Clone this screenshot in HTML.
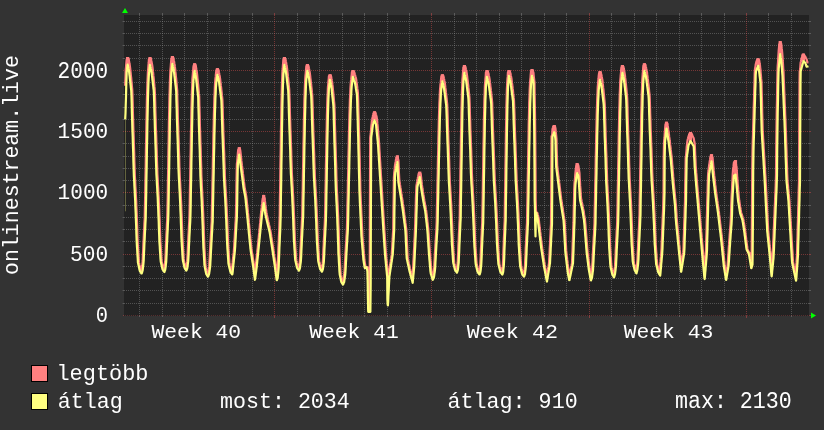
<!DOCTYPE html>
<html><head><meta charset="utf-8"><style>
html,body{margin:0;padding:0;width:824px;height:430px;overflow:hidden;background:#333333}
.mi{stroke:#8f8f8f;stroke-opacity:0.45;stroke-width:1;stroke-dasharray:1 1}
.mit{stroke:#8f8f8f;stroke-opacity:0.45;stroke-width:1}
.ma{stroke:#de4f4f;stroke-opacity:0.45;stroke-width:1;stroke-dasharray:1 1}
.mat{stroke:#de4f4f;stroke-opacity:0.45;stroke-width:1}
.mah{stroke:#de4f4f;stroke-opacity:0.45;stroke-width:1;stroke-dasharray:1 1;stroke-dashoffset:1}
.ma0{stroke:#de4f4f;stroke-opacity:0.28;stroke-width:1;stroke-dasharray:1 1;stroke-dashoffset:1}
text{font-family:"Liberation Mono"}
#tx{will-change:transform}
</style></head><body>
<svg width="824" height="430" viewBox="0 0 824 430" style="position:absolute;left:0;top:0">
<rect x="0" y="0" width="824" height="430" fill="#333333"/>
<rect x="124" y="15" width="685" height="301" fill="#222222"/>
<g><line x1="124" y1="303.5" x2="809" y2="303.5" class="mi"/><line x1="122.6" y1="303.5" x2="124" y2="303.5" class="mit"/><line x1="809" y1="303.5" x2="811" y2="303.5" class="mit"/><line x1="124" y1="290.5" x2="809" y2="290.5" class="mi"/><line x1="122.6" y1="290.5" x2="124" y2="290.5" class="mit"/><line x1="809" y1="290.5" x2="811" y2="290.5" class="mit"/><line x1="124" y1="278.5" x2="809" y2="278.5" class="mi"/><line x1="122.6" y1="278.5" x2="124" y2="278.5" class="mit"/><line x1="809" y1="278.5" x2="811" y2="278.5" class="mit"/><line x1="124" y1="266.5" x2="809" y2="266.5" class="mi"/><line x1="122.6" y1="266.5" x2="124" y2="266.5" class="mit"/><line x1="809" y1="266.5" x2="811" y2="266.5" class="mit"/><line x1="124" y1="241.5" x2="809" y2="241.5" class="mi"/><line x1="122.6" y1="241.5" x2="124" y2="241.5" class="mit"/><line x1="809" y1="241.5" x2="811" y2="241.5" class="mit"/><line x1="124" y1="229.5" x2="809" y2="229.5" class="mi"/><line x1="122.6" y1="229.5" x2="124" y2="229.5" class="mit"/><line x1="809" y1="229.5" x2="811" y2="229.5" class="mit"/><line x1="124" y1="217.5" x2="809" y2="217.5" class="mi"/><line x1="122.6" y1="217.5" x2="124" y2="217.5" class="mit"/><line x1="809" y1="217.5" x2="811" y2="217.5" class="mit"/><line x1="124" y1="205.5" x2="809" y2="205.5" class="mi"/><line x1="122.6" y1="205.5" x2="124" y2="205.5" class="mit"/><line x1="809" y1="205.5" x2="811" y2="205.5" class="mit"/><line x1="124" y1="180.5" x2="809" y2="180.5" class="mi"/><line x1="122.6" y1="180.5" x2="124" y2="180.5" class="mit"/><line x1="809" y1="180.5" x2="811" y2="180.5" class="mit"/><line x1="124" y1="168.5" x2="809" y2="168.5" class="mi"/><line x1="122.6" y1="168.5" x2="124" y2="168.5" class="mit"/><line x1="809" y1="168.5" x2="811" y2="168.5" class="mit"/><line x1="124" y1="156.5" x2="809" y2="156.5" class="mi"/><line x1="122.6" y1="156.5" x2="124" y2="156.5" class="mit"/><line x1="809" y1="156.5" x2="811" y2="156.5" class="mit"/><line x1="124" y1="143.5" x2="809" y2="143.5" class="mi"/><line x1="122.6" y1="143.5" x2="124" y2="143.5" class="mit"/><line x1="809" y1="143.5" x2="811" y2="143.5" class="mit"/><line x1="124" y1="119.5" x2="809" y2="119.5" class="mi"/><line x1="122.6" y1="119.5" x2="124" y2="119.5" class="mit"/><line x1="809" y1="119.5" x2="811" y2="119.5" class="mit"/><line x1="124" y1="107.5" x2="809" y2="107.5" class="mi"/><line x1="122.6" y1="107.5" x2="124" y2="107.5" class="mit"/><line x1="809" y1="107.5" x2="811" y2="107.5" class="mit"/><line x1="124" y1="94.5" x2="809" y2="94.5" class="mi"/><line x1="122.6" y1="94.5" x2="124" y2="94.5" class="mit"/><line x1="809" y1="94.5" x2="811" y2="94.5" class="mit"/><line x1="124" y1="82.5" x2="809" y2="82.5" class="mi"/><line x1="122.6" y1="82.5" x2="124" y2="82.5" class="mit"/><line x1="809" y1="82.5" x2="811" y2="82.5" class="mit"/><line x1="124" y1="58.5" x2="809" y2="58.5" class="mi"/><line x1="122.6" y1="58.5" x2="124" y2="58.5" class="mit"/><line x1="809" y1="58.5" x2="811" y2="58.5" class="mit"/><line x1="124" y1="45.5" x2="809" y2="45.5" class="mi"/><line x1="122.6" y1="45.5" x2="124" y2="45.5" class="mit"/><line x1="809" y1="45.5" x2="811" y2="45.5" class="mit"/><line x1="124" y1="33.5" x2="809" y2="33.5" class="mi"/><line x1="122.6" y1="33.5" x2="124" y2="33.5" class="mit"/><line x1="809" y1="33.5" x2="811" y2="33.5" class="mit"/><line x1="124" y1="21.5" x2="809" y2="21.5" class="mi"/><line x1="122.6" y1="21.5" x2="124" y2="21.5" class="mit"/><line x1="809" y1="21.5" x2="811" y2="21.5" class="mit"/><line x1="139.5" y1="15" x2="139.5" y2="316" class="mi"/><line x1="139.5" y1="316" x2="139.5" y2="317" class="mit"/><line x1="139.5" y1="13" x2="139.5" y2="15" class="mit"/><line x1="162.5" y1="15" x2="162.5" y2="316" class="mi"/><line x1="162.5" y1="316" x2="162.5" y2="317" class="mit"/><line x1="162.5" y1="13" x2="162.5" y2="15" class="mit"/><line x1="184.5" y1="15" x2="184.5" y2="316" class="mi"/><line x1="184.5" y1="316" x2="184.5" y2="317" class="mit"/><line x1="184.5" y1="13" x2="184.5" y2="15" class="mit"/><line x1="207.5" y1="15" x2="207.5" y2="316" class="mi"/><line x1="207.5" y1="316" x2="207.5" y2="317" class="mit"/><line x1="207.5" y1="13" x2="207.5" y2="15" class="mit"/><line x1="229.5" y1="15" x2="229.5" y2="316" class="mi"/><line x1="229.5" y1="316" x2="229.5" y2="317" class="mit"/><line x1="229.5" y1="13" x2="229.5" y2="15" class="mit"/><line x1="252.5" y1="15" x2="252.5" y2="316" class="mi"/><line x1="252.5" y1="316" x2="252.5" y2="317" class="mit"/><line x1="252.5" y1="13" x2="252.5" y2="15" class="mit"/><line x1="297.5" y1="15" x2="297.5" y2="316" class="mi"/><line x1="297.5" y1="316" x2="297.5" y2="317" class="mit"/><line x1="297.5" y1="13" x2="297.5" y2="15" class="mit"/><line x1="319.5" y1="15" x2="319.5" y2="316" class="mi"/><line x1="319.5" y1="316" x2="319.5" y2="317" class="mit"/><line x1="319.5" y1="13" x2="319.5" y2="15" class="mit"/><line x1="342.5" y1="15" x2="342.5" y2="316" class="mi"/><line x1="342.5" y1="316" x2="342.5" y2="317" class="mit"/><line x1="342.5" y1="13" x2="342.5" y2="15" class="mit"/><line x1="364.5" y1="15" x2="364.5" y2="316" class="mi"/><line x1="364.5" y1="316" x2="364.5" y2="317" class="mit"/><line x1="364.5" y1="13" x2="364.5" y2="15" class="mit"/><line x1="387.5" y1="15" x2="387.5" y2="316" class="mi"/><line x1="387.5" y1="316" x2="387.5" y2="317" class="mit"/><line x1="387.5" y1="13" x2="387.5" y2="15" class="mit"/><line x1="409.5" y1="15" x2="409.5" y2="316" class="mi"/><line x1="409.5" y1="316" x2="409.5" y2="317" class="mit"/><line x1="409.5" y1="13" x2="409.5" y2="15" class="mit"/><line x1="454.5" y1="15" x2="454.5" y2="316" class="mi"/><line x1="454.5" y1="316" x2="454.5" y2="317" class="mit"/><line x1="454.5" y1="13" x2="454.5" y2="15" class="mit"/><line x1="476.5" y1="15" x2="476.5" y2="316" class="mi"/><line x1="476.5" y1="316" x2="476.5" y2="317" class="mit"/><line x1="476.5" y1="13" x2="476.5" y2="15" class="mit"/><line x1="499.5" y1="15" x2="499.5" y2="316" class="mi"/><line x1="499.5" y1="316" x2="499.5" y2="317" class="mit"/><line x1="499.5" y1="13" x2="499.5" y2="15" class="mit"/><line x1="521.5" y1="15" x2="521.5" y2="316" class="mi"/><line x1="521.5" y1="316" x2="521.5" y2="317" class="mit"/><line x1="521.5" y1="13" x2="521.5" y2="15" class="mit"/><line x1="544.5" y1="15" x2="544.5" y2="316" class="mi"/><line x1="544.5" y1="316" x2="544.5" y2="317" class="mit"/><line x1="544.5" y1="13" x2="544.5" y2="15" class="mit"/><line x1="566.5" y1="15" x2="566.5" y2="316" class="mi"/><line x1="566.5" y1="316" x2="566.5" y2="317" class="mit"/><line x1="566.5" y1="13" x2="566.5" y2="15" class="mit"/><line x1="611.5" y1="15" x2="611.5" y2="316" class="mi"/><line x1="611.5" y1="316" x2="611.5" y2="317" class="mit"/><line x1="611.5" y1="13" x2="611.5" y2="15" class="mit"/><line x1="634.5" y1="15" x2="634.5" y2="316" class="mi"/><line x1="634.5" y1="316" x2="634.5" y2="317" class="mit"/><line x1="634.5" y1="13" x2="634.5" y2="15" class="mit"/><line x1="656.5" y1="15" x2="656.5" y2="316" class="mi"/><line x1="656.5" y1="316" x2="656.5" y2="317" class="mit"/><line x1="656.5" y1="13" x2="656.5" y2="15" class="mit"/><line x1="679.5" y1="15" x2="679.5" y2="316" class="mi"/><line x1="679.5" y1="316" x2="679.5" y2="317" class="mit"/><line x1="679.5" y1="13" x2="679.5" y2="15" class="mit"/><line x1="701.5" y1="15" x2="701.5" y2="316" class="mi"/><line x1="701.5" y1="316" x2="701.5" y2="317" class="mit"/><line x1="701.5" y1="13" x2="701.5" y2="15" class="mit"/><line x1="724.5" y1="15" x2="724.5" y2="316" class="mi"/><line x1="724.5" y1="316" x2="724.5" y2="317" class="mit"/><line x1="724.5" y1="13" x2="724.5" y2="15" class="mit"/><line x1="768.5" y1="15" x2="768.5" y2="316" class="mi"/><line x1="768.5" y1="316" x2="768.5" y2="317" class="mit"/><line x1="768.5" y1="13" x2="768.5" y2="15" class="mit"/><line x1="791.5" y1="15" x2="791.5" y2="316" class="mi"/><line x1="791.5" y1="316" x2="791.5" y2="317" class="mit"/><line x1="791.5" y1="13" x2="791.5" y2="15" class="mit"/><line x1="124" y1="315.5" x2="809" y2="315.5" class="ma0"/><line x1="123" y1="315.5" x2="124" y2="315.5" class="mat"/><line x1="809" y1="315.5" x2="811" y2="315.5" class="mat"/><line x1="124" y1="254.5" x2="809" y2="254.5" class="mah"/><line x1="123" y1="254.5" x2="124" y2="254.5" class="mat"/><line x1="809" y1="254.5" x2="811" y2="254.5" class="mat"/><line x1="124" y1="192.5" x2="809" y2="192.5" class="mah"/><line x1="123" y1="192.5" x2="124" y2="192.5" class="mat"/><line x1="809" y1="192.5" x2="811" y2="192.5" class="mat"/><line x1="124" y1="131.5" x2="809" y2="131.5" class="mah"/><line x1="123" y1="131.5" x2="124" y2="131.5" class="mat"/><line x1="809" y1="131.5" x2="811" y2="131.5" class="mat"/><line x1="124" y1="70.5" x2="809" y2="70.5" class="mah"/><line x1="123" y1="70.5" x2="124" y2="70.5" class="mat"/><line x1="809" y1="70.5" x2="811" y2="70.5" class="mat"/><line x1="274.5" y1="15" x2="274.5" y2="316" class="ma"/><line x1="274.5" y1="316" x2="274.5" y2="318" class="mat"/><line x1="274.5" y1="13" x2="274.5" y2="15" class="mat"/><line x1="431.5" y1="15" x2="431.5" y2="316" class="ma"/><line x1="431.5" y1="316" x2="431.5" y2="318" class="mat"/><line x1="431.5" y1="13" x2="431.5" y2="15" class="mat"/><line x1="589.5" y1="15" x2="589.5" y2="316" class="ma"/><line x1="589.5" y1="316" x2="589.5" y2="318" class="mat"/><line x1="589.5" y1="13" x2="589.5" y2="15" class="mat"/><line x1="746.5" y1="15" x2="746.5" y2="316" class="ma"/><line x1="746.5" y1="316" x2="746.5" y2="318" class="mat"/><line x1="746.5" y1="13" x2="746.5" y2="15" class="mat"/></g>
<polyline points="125.2,85.8 125.5,76.4 125.7,69.7 126.0,67.0 126.2,64.3 126.5,61.4 126.7,59.4 127.0,59.1 127.2,58.7 127.5,58.4 127.7,58.2 128.0,58.4 128.2,58.5 128.4,58.7 128.7,58.8 128.9,60.6 129.2,61.9 129.4,63.3 129.7,64.7 129.9,66.1 130.2,68.3 130.4,70.7 130.7,73.1 130.9,75.6 131.2,77.9 131.4,80.5 131.7,83.4 131.9,86.1 132.2,88.8 132.4,93.2 132.7,102.8 132.9,112.3 133.2,121.7 133.4,129.4 133.7,137.0 133.9,144.5 134.2,152.8 134.4,161.7 134.7,170.7 134.9,176.5 135.2,181.4 135.4,186.2 135.7,191.1 135.9,195.9 136.2,201.0 136.4,207.2 136.7,213.4 136.9,219.6 137.2,226.8 137.4,234.3 137.7,241.7 137.9,245.8 138.2,250.0 138.4,254.1 138.7,258.2 138.9,262.4 139.2,263.6 139.4,264.8 139.7,265.9 139.9,267.1 140.2,268.2 140.4,269.4 140.7,270.5 140.9,271.2 141.2,271.5 141.4,271.3 141.7,270.1 141.9,268.1 142.2,266.0 142.4,263.9 142.7,260.7 142.9,255.0 143.2,249.4 143.4,243.8 143.7,238.6 143.9,233.6 144.2,228.7 144.4,223.7 144.7,218.8 144.9,208.2 145.2,194.0 145.4,179.7 145.7,165.4 145.9,151.0 146.2,136.7 146.4,123.2 146.7,110.3 146.9,99.8 147.2,89.9 147.4,83.2 147.7,76.4 147.9,71.5 148.2,68.5 148.4,65.6 148.7,62.7 148.9,59.5 149.2,59.2 149.4,58.9 149.7,58.5 149.9,58.2 150.2,58.3 150.4,58.4 150.7,58.6 150.9,58.8 151.2,59.8 151.4,61.0 151.7,62.4 151.9,63.8 152.2,65.1 152.4,66.5 152.7,68.8 152.9,71.2 153.2,73.5 153.4,75.9 153.7,78.2 153.9,80.6 154.2,83.5 154.4,86.2 154.7,88.7 154.9,92.9 155.2,102.1 155.4,111.2 155.7,120.4 155.9,128.0 156.2,135.3 156.4,142.6 156.7,150.2 156.9,158.9 157.2,167.5 157.4,174.3 157.7,179.0 157.9,183.7 158.2,188.3 158.4,193.0 158.7,197.7 158.9,203.3 159.2,209.2 159.4,215.2 159.7,221.5 159.9,228.6 160.2,235.8 160.4,241.8 160.7,245.8 160.9,249.8 161.2,253.8 161.4,257.8 161.7,261.2 161.9,262.4 162.2,263.5 162.4,264.6 162.7,265.7 162.9,266.8 163.2,267.9 163.4,269.0 163.7,269.6 163.9,269.9 164.2,269.8 164.4,268.5 164.7,266.4 164.9,264.2 165.2,262.0 165.4,257.9 165.7,252.0 165.9,246.1 166.2,240.3 166.4,235.1 166.7,229.9 166.9,224.7 167.2,219.5 167.4,212.4 167.7,197.5 167.9,182.5 168.2,167.6 168.4,152.5 168.7,137.4 168.9,123.3 169.2,109.7 169.4,98.7 169.7,88.5 169.9,81.6 170.2,74.4 170.4,70.0 170.7,66.9 170.9,63.9 171.2,60.8 171.4,58.5 171.7,58.1 171.9,57.8 172.2,57.4 172.4,57.2 172.7,57.4 172.9,57.5 173.2,57.7 173.4,57.9 173.7,59.4 173.9,60.7 174.2,62.1 174.4,63.5 174.7,64.9 174.9,66.9 175.2,69.3 175.4,71.7 175.7,74.1 175.9,76.5 176.2,78.9 176.4,81.8 176.7,84.6 176.9,87.3 177.2,90.3 177.4,99.8 177.7,109.2 177.9,118.6 178.2,126.6 178.4,134.1 178.7,141.5 178.9,149.4 179.2,158.3 179.4,167.1 179.7,173.7 179.9,178.5 180.2,183.3 180.4,188.1 180.7,192.9 180.9,197.7 181.2,203.8 181.4,209.9 181.7,216.0 181.9,222.9 182.2,230.3 182.4,237.6 182.7,242.4 182.9,246.5 183.2,250.6 183.4,254.7 183.7,258.7 183.9,260.6 184.2,261.7 184.4,262.8 184.7,264.0 184.9,265.1 185.2,266.2 185.4,267.4 185.7,268.2 185.9,268.5 186.2,268.5 186.4,267.5 186.7,265.5 186.9,263.5 187.2,261.4 187.4,258.3 187.7,252.7 187.9,247.2 188.2,241.7 188.4,236.7 188.7,231.8 188.9,226.9 189.2,222.1 189.4,217.2 189.7,205.1 189.9,191.1 190.2,177.1 190.4,163.1 190.7,148.9 190.9,135.2 191.2,122.0 191.4,110.5 191.7,100.1 191.9,92.1 192.2,85.5 192.4,78.7 192.7,75.7 192.9,72.8 193.2,70.0 193.4,67.1 193.7,65.5 193.9,65.1 194.2,64.8 194.4,64.5 194.7,64.3 194.9,64.5 195.2,64.7 195.4,64.9 195.7,65.0 195.9,66.8 196.2,68.3 196.4,69.7 196.7,71.2 196.9,72.6 197.2,75.1 197.4,77.6 197.7,80.1 197.9,82.6 198.2,85.1 198.4,88.1 198.7,91.0 198.9,93.7 199.2,96.3 199.4,105.6 199.7,115.4 199.9,125.1 200.2,133.5 200.4,141.2 200.7,148.9 200.9,157.4 201.2,166.6 201.4,175.8 201.7,181.6 201.9,186.6 202.2,191.6 202.4,196.5 202.7,201.5 202.9,207.1 203.2,213.5 203.4,219.9 203.7,226.6 203.9,234.2 204.2,241.9 204.4,247.6 204.7,251.9 204.9,256.1 205.2,260.4 205.4,264.7 205.7,266.6 205.9,267.8 206.2,269.0 206.4,270.2 206.7,271.4 206.9,272.5 207.2,273.7 207.4,274.3 207.7,274.7 207.9,274.5 208.2,273.5 208.4,271.7 208.7,269.9 208.9,268.2 209.2,266.4 209.4,262.2 209.7,257.3 209.9,252.5 210.2,247.6 210.4,243.1 210.7,238.8 210.9,234.6 211.2,230.3 211.4,226.0 211.7,221.7 211.9,209.4 212.2,197.1 212.4,184.8 212.7,172.5 212.9,160.0 213.2,147.5 213.4,135.8 213.7,124.1 213.9,114.3 214.2,105.2 214.4,97.6 214.7,91.8 214.9,85.9 215.2,81.6 215.4,79.1 215.7,76.7 215.9,74.2 216.2,71.9 216.4,70.1 216.7,69.9 216.9,69.6 217.2,69.4 217.4,69.2 217.7,69.3 217.9,69.5 218.2,69.6 218.4,69.7 218.7,71.1 218.9,72.2 219.2,73.4 219.4,74.7 219.7,75.9 219.9,77.3 220.2,79.5 220.4,81.6 220.7,83.7 220.9,85.9 221.2,88.0 221.4,90.1 221.7,92.7 221.9,95.2 222.2,97.5 222.4,99.8 222.7,108.3 222.9,116.8 223.2,125.2 223.4,133.0 223.7,139.7 223.9,146.4 224.2,153.1 224.4,160.8 224.7,168.8 224.9,176.8 225.2,181.8 225.4,186.1 225.7,190.5 225.9,194.8 226.2,199.1 226.4,203.4 226.7,208.7 226.9,214.2 227.2,219.8 227.4,225.5 227.7,232.2 227.9,238.8 228.2,244.8 228.4,248.5 228.7,252.2 228.9,255.9 229.2,259.6 229.4,263.3 229.7,264.8 229.9,265.8 230.2,266.9 230.4,267.9 230.7,268.9 230.9,269.9 231.2,270.9 231.4,272.0 231.7,271.8 231.9,269.4 232.2,267.0 232.4,264.6 232.7,262.2 232.9,259.9 233.2,257.5 233.4,255.1 233.7,252.7 233.9,250.3 234.2,246.3 234.4,242.0 234.7,237.6 234.9,233.3 235.2,228.9 235.4,224.6 235.7,220.2 235.9,215.8 236.2,202.4 236.4,186.7 236.7,170.9 236.9,163.6 237.2,161.6 237.4,159.0 237.7,155.6 237.9,152.7 238.2,150.0 238.4,149.6 238.7,149.2 238.9,148.8 239.2,148.4 239.4,148.5 239.7,149.0 239.9,149.5 240.2,149.9 240.4,151.5 240.7,153.9 240.9,156.3 241.2,158.6 241.4,160.9 241.7,163.1 241.9,165.2 242.2,167.2 242.4,169.3 242.7,171.3 242.9,173.4 243.2,175.5 243.4,177.6 243.7,179.7 243.9,181.7 244.2,183.7 244.4,185.8 244.7,187.8 244.9,189.1 245.2,190.5 245.4,191.8 245.7,193.2 245.9,194.6 246.2,196.0 246.4,197.6 246.7,200.1 246.9,202.5 247.2,205.0 247.4,207.5 247.7,210.0 247.9,212.4 248.2,214.9 248.4,217.6 248.7,220.2 248.9,222.9 249.2,225.5 249.4,228.1 249.7,230.8 249.9,233.4 250.2,235.9 250.4,238.4 250.7,240.8 250.9,243.3 251.2,245.8 251.4,248.3 251.7,250.5 251.9,252.1 252.2,253.7 252.4,255.3 252.7,256.9 252.9,258.6 253.2,260.2 253.4,261.8 253.7,263.4 253.9,265.1 254.2,266.7 254.4,268.5 254.7,270.4 254.9,272.3 255.2,271.1 255.4,269.2 255.7,267.3 255.9,264.9 256.2,262.5 256.4,260.0 256.7,257.6 256.9,255.2 257.2,252.7 257.4,250.3 257.7,247.8 257.9,245.3 258.2,242.8 258.4,240.3 258.7,237.8 258.9,235.3 259.2,232.7 259.4,230.2 259.7,227.6 259.9,225.0 260.2,222.4 260.4,219.7 260.7,217.0 260.9,214.2 261.2,212.0 261.4,209.9 261.7,207.7 261.9,205.4 262.2,203.2 262.4,201.0 262.7,198.7 262.9,198.1 263.2,197.5 263.4,196.8 263.7,196.0 263.9,196.7 264.2,197.4 264.4,198.0 264.7,198.6 264.9,200.7 265.2,202.8 265.4,204.9 265.7,206.8 265.9,208.7 266.2,210.6 266.4,212.4 266.7,213.8 266.9,215.0 267.2,216.2 267.4,217.4 267.7,218.6 267.9,219.7 268.2,220.9 268.4,222.0 268.7,223.2 268.9,224.3 269.2,225.4 269.4,226.6 269.7,227.7 269.9,228.8 270.2,229.9 270.4,231.1 270.7,232.2 270.9,233.6 271.2,235.3 271.4,237.0 271.7,238.6 271.9,240.3 272.2,241.9 272.4,243.6 272.7,245.2 272.9,246.8 273.2,248.5 273.4,250.1 273.7,251.8 273.9,253.5 274.2,255.2 274.4,256.9 274.7,258.6 274.9,260.3 275.2,261.9 275.4,263.6 275.7,265.3 275.9,267.0 276.2,268.8 276.4,270.7 276.7,272.5 276.9,274.4 277.2,273.2 277.4,270.8 277.7,267.2 277.9,260.8 278.2,254.4 278.4,248.0 278.7,242.3 278.9,236.6 279.2,230.9 279.4,225.3 279.7,215.4 279.9,199.1 280.2,182.8 280.4,166.5 280.7,149.9 280.9,134.0 281.2,118.6 281.4,105.7 281.7,93.6 281.9,85.6 282.2,77.9 282.4,72.1 282.7,68.7 282.9,65.5 283.2,62.1 283.4,59.5 283.7,59.2 283.9,58.8 284.2,58.4 284.4,58.2 284.7,58.3 284.9,58.5 285.2,58.7 285.4,58.8 285.7,60.2 285.9,61.5 286.2,62.8 286.4,64.2 286.7,65.5 286.9,67.2 287.2,69.5 287.4,71.8 287.7,74.1 287.9,76.4 288.2,78.6 288.4,81.1 288.7,83.9 288.9,86.5 289.2,89.0 289.4,94.3 289.7,103.3 289.9,112.3 290.2,121.2 290.4,128.5 290.7,135.6 290.9,142.7 291.2,150.4 291.4,158.8 291.7,167.3 291.9,173.8 292.2,178.4 292.4,183.0 292.7,187.5 292.9,192.1 293.2,196.7 293.4,202.1 293.7,208.0 293.9,213.8 294.2,219.9 294.4,226.9 294.7,233.9 294.9,240.2 295.2,244.1 295.4,248.0 295.7,251.9 295.9,255.8 296.2,259.7 296.4,260.8 296.7,261.9 296.9,263.0 297.2,264.1 297.4,265.2 297.7,266.2 297.9,267.3 298.2,268.1 298.4,268.5 298.7,268.9 298.9,268.2 299.2,266.5 299.4,264.5 299.7,262.6 299.9,260.6 300.2,256.1 300.4,250.7 300.7,245.3 300.9,240.0 301.2,235.2 301.4,230.5 301.7,225.7 301.9,221.0 302.2,216.3 302.4,202.6 302.7,189.0 302.9,175.4 303.2,161.6 303.4,147.7 303.7,134.5 303.9,121.6 304.2,110.4 304.4,100.3 304.7,92.4 304.9,86.0 305.2,79.5 305.4,76.4 305.7,73.6 305.9,70.9 306.2,68.2 306.4,66.2 306.7,65.9 306.9,65.6 307.2,65.4 307.4,65.1 307.7,65.3 307.9,65.4 308.2,65.6 308.4,65.7 308.7,67.1 308.9,68.3 309.2,69.6 309.4,70.8 309.7,72.1 309.9,73.7 310.2,75.9 310.4,78.1 310.7,80.3 310.9,82.5 311.2,84.7 311.4,87.1 311.7,89.7 311.9,92.2 312.2,94.6 312.4,99.7 312.7,108.5 312.9,117.2 313.2,125.9 313.4,133.0 313.7,139.9 313.9,146.8 314.2,154.3 314.4,162.6 314.7,170.8 314.9,177.1 315.2,181.6 315.4,186.1 315.7,190.5 315.9,195.0 316.2,199.5 316.4,204.8 316.7,210.5 316.9,216.2 317.2,222.1 317.4,228.9 317.7,235.8 317.9,241.9 318.2,245.7 318.4,249.5 318.7,253.3 318.9,257.1 319.2,260.9 319.4,262.0 319.7,263.1 319.9,264.2 320.2,265.2 320.4,266.3 320.7,267.3 320.9,268.4 321.2,269.2 321.4,269.5 321.7,269.8 321.9,269.1 322.2,267.2 322.4,265.2 322.7,263.2 322.9,260.8 323.2,255.4 323.4,249.9 323.7,244.5 323.9,239.5 324.2,234.7 324.4,229.9 324.7,225.1 324.9,220.3 325.2,208.4 325.4,194.7 325.7,180.9 325.9,167.0 326.2,153.1 326.4,139.8 326.7,126.8 326.9,116.0 327.2,105.9 327.4,99.0 327.7,92.6 327.9,87.2 328.2,84.5 328.4,81.9 328.7,79.3 328.9,76.3 329.2,76.0 329.4,75.8 329.7,75.6 329.9,75.3 330.2,75.4 330.4,75.5 330.7,75.6 330.9,75.8 331.2,76.8 331.4,78.2 331.7,79.6 331.9,81.0 332.2,82.3 332.4,84.4 332.7,86.9 332.9,89.3 333.2,91.8 333.4,94.3 333.7,97.1 333.9,99.8 334.2,102.5 334.4,105.1 334.7,113.3 334.9,123.2 335.2,133.2 335.4,141.8 335.7,149.7 335.9,157.6 336.2,166.3 336.4,175.8 336.7,185.2 336.9,190.7 337.2,195.8 337.4,200.9 337.7,206.0 337.9,211.1 338.2,217.2 338.4,223.8 338.7,230.3 338.9,237.7 339.2,245.5 339.4,253.4 339.7,257.7 339.9,262.1 340.2,266.5 340.4,270.8 340.7,274.2 340.9,275.4 341.2,276.6 341.4,277.8 341.7,279.0 341.9,280.2 342.2,281.4 342.4,282.2 342.7,282.6 342.9,282.5 343.2,281.9 343.4,280.2 343.7,278.5 343.9,276.8 344.2,275.0 344.4,272.7 344.7,268.0 344.9,263.3 345.2,258.6 345.4,253.9 345.7,249.6 345.9,245.5 346.2,241.3 346.4,237.2 346.7,233.0 346.9,228.9 347.2,218.5 347.4,206.6 347.7,194.7 347.9,182.8 348.2,170.8 348.4,158.6 348.7,146.9 348.9,135.6 349.2,124.2 349.4,115.4 349.7,106.5 349.9,99.6 350.2,94.0 350.4,88.3 350.7,83.9 350.9,81.5 351.2,79.2 351.4,76.8 351.7,74.6 351.9,72.1 352.2,71.9 352.4,71.7 352.7,71.4 352.9,71.2 353.2,71.2 353.4,71.3 353.7,71.4 353.9,71.4 354.2,72.1 354.4,72.9 354.7,73.7 354.9,74.5 355.2,75.4 355.4,76.3 355.7,77.1 355.9,78.0 356.2,79.5 356.4,81.2 356.7,82.9 356.9,84.6 357.2,86.7 357.4,88.9 357.7,91.0 357.9,92.9 358.2,100.8 358.4,110.0 358.7,119.2 358.9,128.4 359.2,137.5 359.4,148.2 359.7,158.8 359.9,169.5 360.2,180.1 360.4,190.7 360.7,197.3 360.9,202.8 361.2,208.4 361.4,213.9 361.7,219.4 361.9,224.9 362.2,230.4 362.4,236.0 362.7,239.4 362.9,242.3 363.2,245.2 363.4,248.1 363.7,251.0 363.9,253.9 364.2,256.9 364.4,259.8 364.7,261.6 364.9,263.1 365.2,264.6 365.4,266.2 365.7,267.1 365.9,267.1 366.2,267.1 366.4,267.1 366.7,267.1 366.9,267.1 367.2,267.1 367.4,267.1 367.7,267.9 367.9,269.0 368.2,270.1 368.4,271.2 368.7,282.9 368.9,297.4 369.2,311.8 369.4,311.8 369.7,282.8 369.9,210.3 370.2,137.8 370.4,135.9 370.7,134.0 370.9,132.0 371.2,127.6 371.4,125.4 371.7,123.1 371.9,120.8 372.2,119.4 372.4,118.2 372.7,117.0 372.9,115.7 373.2,114.7 373.4,113.6 373.7,113.3 373.9,113.0 374.2,112.7 374.4,112.4 374.7,112.4 374.9,112.6 375.2,112.7 375.4,112.8 375.7,113.5 375.9,114.3 376.2,115.3 376.4,116.4 376.7,117.5 376.9,118.6 377.2,121.1 377.4,123.9 377.7,126.7 377.9,129.5 378.2,132.4 378.4,135.3 378.7,138.1 378.9,140.9 379.2,145.0 379.4,149.3 379.7,153.5 379.9,157.8 380.2,162.0 380.4,166.1 380.7,170.3 380.9,174.4 381.2,178.6 381.4,182.7 381.7,186.8 381.9,190.8 382.2,194.8 382.4,198.9 382.7,202.9 382.9,206.9 383.2,210.9 383.4,214.9 383.7,218.9 383.9,222.9 384.2,226.9 384.4,230.8 384.7,234.6 384.9,238.4 385.2,242.1 385.4,245.9 385.7,249.7 385.9,253.5 386.2,256.3 386.4,258.8 386.7,261.4 386.9,263.9 387.2,266.5 387.4,269.0 387.7,271.6 387.9,274.1 388.2,276.6 388.4,276.3 388.7,274.7 388.9,273.0 389.2,271.4 389.4,269.7 389.7,268.1 389.9,266.4 390.2,264.8 390.4,263.1 390.7,261.5 390.9,259.8 391.2,258.2 391.4,256.5 391.7,254.9 391.9,251.6 392.2,247.3 392.4,243.0 392.7,238.7 392.9,234.3 393.2,230.0 393.4,212.5 393.7,195.0 393.9,177.5 394.2,173.0 394.4,171.3 394.7,169.1 394.9,166.2 395.2,164.3 395.4,162.9 395.7,161.4 395.9,160.0 396.2,158.5 396.4,157.3 396.7,157.1 396.9,156.9 397.2,156.6 397.4,156.7 397.7,157.8 397.9,158.8 398.2,159.5 398.4,159.9 398.7,166.6 398.9,172.1 399.2,177.7 399.4,180.9 399.7,182.5 399.9,184.2 400.2,185.8 400.4,187.4 400.7,189.0 400.9,190.6 401.2,192.1 401.4,193.7 401.7,195.3 401.9,196.9 402.2,198.6 402.4,200.3 402.7,202.1 402.9,203.9 403.2,205.7 403.4,207.5 403.7,209.2 403.9,211.0 404.2,212.9 404.4,214.9 404.7,216.8 404.9,218.8 405.2,220.7 405.4,222.7 405.7,224.6 405.9,226.6 406.2,228.5 406.4,231.1 406.7,236.5 406.9,241.9 407.2,247.3 407.4,252.6 407.7,258.0 407.9,259.2 408.2,260.3 408.4,261.5 408.7,262.7 408.9,263.8 409.2,265.0 409.4,266.1 409.7,267.3 409.9,268.5 410.2,269.6 410.4,270.8 410.7,271.7 410.9,272.7 411.2,273.6 411.4,274.5 411.7,275.4 411.9,276.3 412.2,277.3 412.4,275.0 412.7,272.4 412.9,269.8 413.2,267.2 413.4,262.1 413.7,256.9 413.9,251.7 414.2,246.6 414.4,241.4 414.7,236.3 414.9,231.1 415.2,223.5 415.4,215.2 415.7,206.9 415.9,198.6 416.2,190.2 416.4,186.1 416.7,184.8 416.9,183.2 417.2,181.4 417.4,179.8 417.7,178.7 417.9,177.5 418.2,176.3 418.4,175.2 418.7,173.6 418.9,173.4 419.2,173.2 419.4,173.0 419.7,172.8 419.9,173.0 420.2,173.4 420.4,173.8 420.7,174.1 420.9,175.7 421.2,178.0 421.4,180.3 421.7,182.6 421.9,184.9 422.2,186.7 422.4,188.3 422.7,189.9 422.9,191.5 423.2,193.1 423.4,194.7 423.7,196.3 423.9,197.8 424.2,199.4 424.4,201.0 424.7,202.4 424.9,203.8 425.2,205.2 425.4,206.6 425.7,208.0 425.9,209.4 426.2,210.7 426.4,212.6 426.7,214.9 426.9,217.1 427.2,219.4 427.4,221.6 427.7,223.8 427.9,226.1 428.2,228.3 428.4,230.8 428.7,234.6 428.9,238.4 429.2,242.1 429.4,245.9 429.7,249.7 429.9,253.5 430.2,256.5 430.4,259.5 430.7,262.4 430.9,265.3 431.2,268.2 431.4,271.1 431.7,273.2 431.9,274.0 432.2,274.8 432.4,275.6 432.7,276.5 432.9,277.3 433.2,275.7 433.4,273.9 433.7,272.2 433.9,270.5 434.2,267.6 434.4,263.0 434.7,258.3 434.9,253.6 435.2,249.0 435.4,244.9 435.7,240.7 435.9,236.6 436.2,232.5 436.4,228.4 436.7,221.2 436.9,209.3 437.2,197.4 437.4,185.6 437.7,173.6 437.9,161.6 438.2,149.7 438.4,138.5 438.7,127.2 438.9,118.3 439.2,109.4 439.4,102.7 439.7,97.0 439.9,91.3 440.2,87.5 440.4,85.0 440.7,82.7 440.9,80.3 441.2,78.0 441.4,76.3 441.7,76.0 441.9,75.8 442.2,75.5 442.4,75.3 442.7,75.5 442.9,75.6 443.2,75.8 443.4,75.9 443.7,77.2 443.9,78.4 444.2,79.6 444.4,80.9 444.7,82.1 444.9,83.6 445.2,85.8 445.4,87.9 445.7,90.0 445.9,92.2 446.2,94.3 446.4,96.6 446.7,99.1 446.9,101.6 447.2,103.9 447.4,108.8 447.7,117.1 447.9,125.5 448.2,133.8 448.4,140.5 448.7,147.2 448.9,153.7 449.2,160.9 449.4,168.7 449.7,176.6 449.9,182.6 450.2,186.9 450.4,191.1 450.7,195.4 450.9,199.6 451.2,203.9 451.4,208.9 451.7,214.3 451.9,219.8 452.2,225.4 452.4,231.9 452.7,238.4 452.9,244.3 453.2,247.9 453.4,251.5 453.7,255.2 453.9,258.8 454.2,262.4 454.4,263.5 454.7,264.5 454.9,265.5 455.2,266.5 455.4,267.5 455.7,268.5 455.9,269.5 456.2,270.2 456.4,270.6 456.7,270.6 456.9,269.4 457.2,267.2 457.4,265.0 457.7,262.7 457.9,257.8 458.2,251.7 458.4,245.5 458.7,239.7 458.9,234.4 459.2,229.0 459.4,223.6 459.7,218.2 459.9,202.7 460.2,187.3 460.4,171.8 460.7,156.1 460.9,140.6 461.2,126.0 461.4,112.9 461.7,101.5 461.9,93.1 462.2,85.8 462.4,79.8 462.7,76.5 462.9,73.3 463.2,70.1 463.4,67.5 463.7,67.2 463.9,66.8 464.2,66.4 464.4,66.1 464.7,66.3 464.9,66.4 465.2,66.6 465.4,66.8 465.7,68.1 465.9,69.3 466.2,70.5 466.4,71.8 466.7,73.0 466.9,74.4 467.2,76.6 467.4,78.8 467.7,80.9 467.9,83.1 468.2,85.2 468.4,87.4 468.7,89.9 468.9,92.5 469.2,95.0 469.4,97.3 469.7,104.5 469.9,112.9 470.2,121.4 470.4,129.6 470.7,136.3 470.9,143.1 471.2,149.7 471.4,157.0 471.7,165.0 471.9,173.0 472.2,179.3 472.4,183.6 472.7,187.9 472.9,192.2 473.2,196.5 473.4,200.8 473.7,205.6 473.9,211.1 474.2,216.6 474.4,222.1 474.7,228.4 474.9,235.1 475.2,241.7 475.4,246.3 475.7,250.0 475.9,253.6 476.2,257.3 476.4,261.0 476.7,264.1 476.9,265.1 477.2,266.1 477.4,267.2 477.7,268.2 477.9,269.2 478.2,270.2 478.4,271.2 478.7,272.0 478.9,272.4 479.2,272.7 479.4,272.1 479.7,270.1 479.9,267.9 480.2,265.7 480.4,262.3 480.7,256.3 480.9,250.2 481.2,244.2 481.4,238.9 481.7,233.5 481.9,228.2 482.2,222.9 482.4,211.6 482.7,196.2 482.9,180.9 483.2,165.5 483.4,149.9 483.7,135.3 483.9,121.1 484.2,109.8 484.4,99.8 484.7,92.8 484.9,85.5 485.2,82.2 485.4,79.1 485.7,76.0 485.9,72.5 486.2,72.1 486.4,71.8 486.7,71.5 486.9,71.2 487.2,71.2 487.4,71.4 487.7,71.5 487.9,71.6 488.2,72.5 488.4,73.6 488.7,74.8 488.9,76.0 489.2,77.1 489.4,78.3 489.7,80.1 489.9,82.2 490.2,84.2 490.4,86.3 490.7,88.3 490.9,90.4 491.2,92.5 491.4,95.0 491.7,97.4 491.9,99.6 492.2,102.8 492.4,111.0 492.7,119.2 492.9,127.4 493.2,134.7 493.4,141.2 493.7,147.7 493.9,154.1 494.2,161.6 494.4,169.3 494.7,177.0 494.9,182.2 495.2,186.4 495.4,190.5 495.7,194.7 495.9,198.9 496.2,203.0 496.4,207.8 496.7,213.2 496.9,218.5 497.2,223.8 497.4,230.1 497.7,236.5 497.9,242.9 498.2,247.1 498.4,250.6 498.7,254.2 498.9,257.8 499.2,261.3 499.4,264.3 499.7,265.3 499.9,266.3 500.2,267.3 500.4,268.2 500.7,269.2 500.9,270.2 501.2,271.2 501.4,272.1 501.7,272.4 501.9,272.7 502.2,271.9 502.4,269.4 502.7,266.9 502.9,264.4 503.2,258.2 503.4,251.3 503.7,244.5 503.9,238.5 504.2,232.5 504.4,226.5 504.7,220.5 504.9,203.2 505.2,186.0 505.4,168.6 505.7,151.1 505.9,134.6 506.2,119.0 506.4,106.3 506.7,96.6 506.9,88.8 507.2,83.1 507.4,79.7 507.7,76.4 507.9,72.6 508.2,72.1 508.4,71.8 508.7,71.5 508.9,71.2 509.2,71.2 509.4,71.3 509.7,71.4 509.9,71.6 510.2,72.5 510.4,73.6 510.7,74.8 510.9,76.0 511.2,77.1 511.4,78.3 511.7,80.3 511.9,82.4 512.2,84.5 512.5,86.6 512.7,88.7 513.0,90.8 513.2,93.2 513.5,95.6 513.7,97.9 514.0,100.2 514.2,106.2 514.5,114.7 514.7,123.2 515.0,131.6 515.2,138.4 515.5,145.1 515.7,151.8 516.0,159.1 516.2,167.1 516.5,175.1 516.7,181.7 517.0,186.0 517.2,190.4 517.5,194.7 517.7,199.0 518.0,203.4 518.2,208.2 518.5,213.8 518.7,219.3 519.0,224.9 519.2,231.3 519.5,238.0 519.7,244.7 520.0,249.0 520.2,252.7 520.5,256.4 520.7,260.1 521.0,263.8 521.2,266.4 521.5,267.5 521.7,268.5 522.0,269.5 522.2,270.5 522.5,271.6 522.7,272.6 523.0,273.6 523.2,274.2 523.5,274.6 523.7,274.8 524.0,274.1 524.2,272.0 524.5,269.9 524.7,267.9 525.0,265.3 525.2,259.7 525.5,254.0 525.7,248.3 526.0,243.0 526.2,238.0 526.5,233.0 526.7,228.0 527.0,223.0 527.2,210.5 527.5,196.1 527.7,181.7 528.0,167.2 528.2,152.6 528.5,138.7 528.7,125.0 529.0,113.7 529.2,103.1 529.5,95.8 529.7,89.0 530.0,83.3 530.2,80.3 530.5,77.5 530.7,74.6 531.0,71.4 531.2,71.1 531.5,70.8 531.7,70.5 532.0,70.2 532.2,70.3 532.5,70.4 532.7,70.6 533.0,70.7 533.2,71.8 533.5,73.0 533.7,75.6 534.0,78.1 534.2,80.1 534.5,82.1 534.7,96.2 535.0,113.2 535.2,130.3 535.5,168.4 535.7,200.5 536.0,210.0 536.2,212.6 536.5,212.7 536.7,212.7 537.0,212.7 537.2,212.7 537.5,213.6 537.7,214.5 538.0,215.4 538.2,216.3 538.5,217.3 538.7,219.1 539.0,221.2 539.2,223.3 539.5,225.4 539.7,227.5 540.0,229.6 540.2,231.7 540.5,233.8 540.7,235.9 541.0,238.0 541.2,240.1 541.5,242.2 541.7,244.3 542.0,246.4 542.2,248.2 542.5,249.8 542.7,251.4 543.0,253.1 543.2,254.7 543.5,256.3 543.7,258.0 544.0,259.6 544.2,261.2 544.5,262.9 544.7,264.5 545.0,266.1 545.2,267.5 545.5,268.9 545.7,270.2 546.0,271.5 546.2,272.8 546.5,274.1 546.7,275.5 547.0,275.4 547.2,273.9 547.5,272.4 547.7,270.9 548.0,269.4 548.2,267.9 548.5,266.4 548.7,264.9 549.0,263.3 549.2,259.0 549.5,254.0 549.7,249.0 550.0,244.0 550.2,239.0 550.5,234.0 550.7,229.0 551.0,224.0 551.2,192.9 551.5,136.5 551.7,135.9 552.0,135.3 552.2,134.3 552.5,129.0 552.7,128.3 553.0,127.6 553.2,126.7 553.5,126.5 553.7,126.4 554.0,126.3 554.2,126.2 554.5,126.3 554.7,126.6 555.0,126.9 555.2,127.1 555.5,128.6 555.7,131.4 556.0,133.9 556.2,135.9 556.5,139.2 556.7,149.3 557.0,159.3 557.2,166.2 557.5,168.2 557.7,170.3 558.0,172.3 558.2,174.3 558.5,176.3 558.7,178.4 559.0,180.4 559.2,182.4 559.5,184.5 559.7,186.6 560.0,188.7 560.2,190.7 560.5,192.8 560.7,194.8 561.0,196.9 561.2,198.9 561.5,200.7 561.7,202.3 562.0,203.9 562.2,205.6 562.5,207.2 562.7,208.8 563.0,210.4 563.2,212.0 563.5,213.6 563.7,215.2 564.0,216.8 564.2,218.4 564.5,220.0 564.7,222.8 565.0,227.4 565.2,232.0 565.5,236.6 565.7,241.2 566.0,245.8 566.2,250.4 566.5,253.5 566.7,255.6 567.0,257.6 567.2,259.7 567.5,261.8 567.7,263.9 568.0,265.9 568.2,268.0 568.5,270.1 568.7,272.1 569.0,273.7 569.2,275.0 569.5,275.2 569.7,274.0 570.0,272.8 570.2,271.6 570.5,270.4 570.7,269.2 571.0,268.1 571.2,266.9 571.5,265.7 571.7,264.5 572.0,263.3 572.2,257.4 572.5,250.4 572.7,243.4 573.0,236.4 573.2,229.4 573.5,222.4 573.7,212.0 574.0,200.6 574.2,189.3 574.5,183.6 574.7,181.4 575.0,178.7 575.2,175.2 575.5,172.2 575.7,170.0 576.0,167.9 576.2,166.4 576.5,165.8 576.7,165.2 577.0,164.5 577.2,164.2 577.5,164.4 577.7,164.7 578.0,164.9 578.2,165.1 578.5,166.3 578.7,168.1 579.0,169.7 579.2,171.2 579.5,173.2 579.7,177.6 580.0,181.9 580.2,185.9 580.5,189.8 580.7,193.7 581.0,197.6 581.2,199.3 581.5,200.5 581.7,201.7 582.0,202.9 582.2,204.1 582.5,205.3 582.7,206.5 583.0,207.7 583.2,208.9 583.5,210.2 583.7,211.8 584.0,213.4 584.2,215.0 584.5,216.7 584.7,218.3 585.0,219.9 585.2,222.1 585.5,225.3 585.7,228.5 586.0,231.6 586.2,234.7 586.5,237.9 586.7,241.0 587.0,244.1 587.2,247.3 587.5,250.4 587.7,253.1 588.0,255.1 588.2,257.1 588.5,259.1 588.7,261.1 589.0,263.1 589.2,265.1 589.5,267.1 589.7,269.0 590.0,270.4 590.2,271.8 590.5,273.2 590.7,274.6 591.0,276.0 591.2,275.8 591.5,274.0 591.7,272.2 592.0,270.4 592.2,266.2 592.5,261.2 592.7,256.3 593.0,251.3 593.2,246.8 593.5,242.5 593.7,238.1 594.0,233.8 594.2,229.4 594.5,223.4 594.7,210.9 595.0,198.4 595.2,185.9 595.5,173.3 595.7,160.6 596.0,148.1 596.2,136.2 596.5,124.6 596.7,115.3 597.0,105.8 597.2,99.5 597.5,93.4 597.7,87.2 598.0,84.2 598.2,81.6 598.5,79.0 598.7,76.2 599.0,73.5 599.2,73.2 599.5,72.9 599.7,72.5 600.0,72.2 600.2,72.3 600.5,72.5 600.7,72.7 601.0,72.9 601.2,73.9 601.5,75.2 601.7,76.5 602.0,77.9 602.2,79.3 602.5,80.9 602.7,83.2 603.0,85.6 603.2,87.9 603.5,90.2 603.7,92.5 604.0,95.3 604.2,98.1 604.5,100.8 604.7,103.3 605.0,110.2 605.2,119.2 605.5,128.2 605.7,136.6 606.0,143.7 606.2,150.8 606.5,157.9 606.7,166.3 607.0,174.7 607.2,182.5 607.5,187.1 607.7,191.7 608.0,196.2 608.2,200.8 608.5,205.3 608.7,210.6 609.0,216.5 609.2,222.3 609.5,228.4 609.7,235.4 610.0,242.4 610.2,248.2 610.5,252.1 610.7,255.9 611.0,259.8 611.2,263.7 611.5,266.6 611.7,267.7 612.0,268.8 612.2,269.8 612.5,270.9 612.7,272.0 613.0,273.1 613.2,274.1 613.5,274.6 613.7,275.1 614.0,274.2 614.2,272.5 614.5,270.4 614.7,268.4 615.0,266.4 615.2,261.8 615.5,256.3 615.7,250.8 616.0,245.4 616.2,240.5 616.5,235.7 616.7,230.8 617.0,226.0 617.2,221.2 617.5,207.3 617.7,193.3 618.0,179.4 618.2,165.4 618.5,151.3 618.7,137.7 619.0,124.5 619.2,113.1 619.5,102.8 619.7,94.7 620.0,88.1 620.2,81.4 620.5,78.1 620.7,75.2 621.0,72.3 621.2,69.4 621.5,67.3 621.7,67.0 622.0,66.7 622.2,66.4 622.5,66.1 622.7,66.3 623.0,66.5 623.2,66.6 623.5,66.8 623.7,68.3 624.0,69.6 624.2,70.9 624.5,72.3 624.7,73.6 625.0,75.6 625.2,77.9 625.5,80.2 625.7,82.6 626.0,84.9 626.2,87.2 626.5,90.1 626.7,92.8 627.0,95.4 627.2,98.3 627.5,107.5 627.7,116.6 628.0,125.6 628.2,133.4 628.5,140.6 628.7,147.8 629.0,155.5 629.2,164.0 629.5,172.6 629.7,178.9 630.0,183.6 630.2,188.2 630.5,192.8 630.7,197.5 631.0,202.1 631.2,208.0 631.5,213.9 631.7,219.8 632.0,226.5 632.2,233.6 632.5,240.7 632.7,245.3 633.0,249.2 633.2,253.2 633.5,257.1 633.7,261.1 634.0,262.9 634.2,264.0 634.5,265.1 634.7,266.1 635.0,267.2 635.2,268.3 635.5,269.4 635.7,270.2 636.0,270.7 636.2,270.6 636.5,269.2 636.7,267.1 637.0,265.0 637.2,262.9 637.5,259.0 637.7,253.3 638.0,247.5 638.2,241.8 638.5,236.8 638.7,231.8 639.0,226.7 639.2,221.7 639.5,214.8 639.7,200.3 640.0,185.9 640.2,171.4 640.5,156.8 640.7,142.1 641.0,128.5 641.2,115.2 641.5,104.6 641.7,94.8 642.0,88.0 642.2,81.0 642.5,76.8 642.7,73.7 643.0,70.8 643.2,67.8 643.5,65.5 643.7,65.2 644.0,64.9 644.2,64.5 644.5,64.3 644.7,64.4 645.0,64.6 645.2,64.7 645.5,64.9 645.7,66.2 646.0,67.3 646.2,68.5 646.5,69.7 646.7,70.9 647.0,72.2 647.2,74.2 647.5,76.3 647.7,78.4 648.0,80.5 648.2,82.6 648.5,84.6 648.7,86.8 649.0,89.4 649.2,91.8 649.5,94.1 649.7,97.2 650.0,105.5 650.2,113.7 650.5,121.9 650.7,129.6 651.0,136.1 651.2,142.7 651.5,149.2 651.7,156.3 652.0,164.1 652.2,171.8 652.5,178.2 652.7,182.4 653.0,186.6 653.2,190.8 653.5,195.0 653.7,199.1 654.0,203.4 654.2,208.8 654.5,214.1 654.7,219.5 655.0,225.2 655.2,231.6 655.5,238.0 655.7,244.1 656.0,247.7 656.2,251.3 656.5,254.9 656.7,258.4 657.0,262.0 657.2,264.5 657.5,265.4 657.7,266.4 658.0,267.4 658.2,268.4 658.5,269.4 658.7,270.4 659.0,271.4 659.2,272.3 659.5,272.7 659.7,270.1 660.0,267.3 660.2,264.5 660.5,261.7 660.7,258.9 661.0,256.2 661.2,253.4 661.5,248.5 661.7,242.3 662.0,236.1 662.2,229.8 662.5,223.6 662.7,217.4 663.0,211.1 663.2,204.9 663.5,192.9 663.7,157.9 664.0,142.5 664.2,140.1 664.5,137.7 664.7,133.9 665.0,130.0 665.2,127.4 665.5,124.4 665.7,124.0 666.0,123.6 666.2,123.2 666.5,122.8 666.7,123.0 667.0,123.3 667.2,123.6 667.5,123.9 667.7,125.4 668.0,127.3 668.2,129.2 668.5,131.1 668.7,133.0 669.0,134.8 669.2,136.7 669.5,138.6 669.7,140.5 670.0,142.7 670.2,144.9 670.5,147.1 670.7,149.2 671.0,151.4 671.2,153.6 671.5,155.7 671.7,157.9 672.0,161.0 672.2,164.1 672.5,167.2 672.7,170.3 673.0,173.4 673.2,176.4 673.5,179.5 673.7,182.5 674.0,185.2 674.2,187.8 674.5,190.3 674.7,192.8 675.0,195.4 675.2,197.9 675.5,200.4 675.7,202.9 676.0,205.7 676.2,209.7 676.5,213.8 676.7,217.8 677.0,221.5 677.2,224.0 677.5,226.5 677.7,229.1 678.0,231.6 678.2,234.1 678.5,236.6 678.7,239.2 679.0,241.7 679.2,244.2 679.5,246.7 679.7,249.2 680.0,251.8 680.2,254.2 680.5,256.6 680.7,259.0 681.0,261.4 681.2,263.8 681.5,264.0 681.7,262.4 682.0,260.8 682.2,259.2 682.5,257.6 682.7,256.1 683.0,254.5 683.2,252.9 683.5,247.6 683.7,239.9 684.0,232.2 684.2,224.6 684.5,216.9 684.7,209.2 685.0,201.4 685.2,186.1 685.5,168.9 685.7,157.7 686.0,155.8 686.2,153.4 686.5,150.3 686.7,146.9 687.0,144.8 687.2,142.7 687.5,140.6 687.7,139.4 688.0,138.5 688.2,137.6 688.5,136.6 688.7,135.9 689.0,135.2 689.2,134.5 689.5,133.8 689.7,133.6 690.0,133.5 690.2,133.3 690.5,133.2 690.7,133.2 691.0,133.3 691.2,133.5 691.5,133.6 691.7,134.0 692.0,134.6 692.2,135.1 692.5,135.6 692.7,136.2 693.0,136.7 693.2,137.2 693.5,137.7 693.7,138.3 694.0,139.9 694.2,141.3 694.5,142.5 694.7,143.7 695.0,149.2 695.2,154.8 695.5,160.3 695.7,165.8 696.0,169.1 696.2,172.4 696.5,175.6 696.7,178.8 697.0,182.0 697.2,185.1 697.5,188.2 697.7,191.1 698.0,194.0 698.2,196.8 698.5,199.7 698.7,202.5 699.0,205.4 699.2,208.3 699.5,211.2 699.7,214.1 700.0,216.9 700.2,219.8 700.5,222.7 700.7,225.6 701.0,228.5 701.2,231.4 701.5,234.3 701.7,237.2 702.0,240.1 702.2,243.0 702.5,245.9 702.7,248.8 703.0,251.7 703.2,254.4 703.5,257.1 703.7,259.8 704.0,262.5 704.2,265.2 704.5,267.8 704.7,266.8 705.0,263.8 705.2,260.8 705.5,257.7 705.7,254.7 706.0,250.4 706.2,241.0 706.5,231.7 706.7,222.4 707.0,213.0 707.2,203.6 707.5,194.4 707.7,185.3 708.0,176.0 708.2,172.8 708.5,171.0 708.7,168.9 709.0,166.4 709.2,164.7 709.5,163.1 709.7,161.5 710.0,160.0 710.2,158.4 710.5,156.5 710.7,156.2 711.0,155.9 711.2,155.6 711.5,155.3 711.7,155.7 712.0,156.2 712.2,156.7 712.5,157.2 712.7,159.6 713.0,162.3 713.2,165.1 713.5,167.7 713.7,170.4 714.0,173.0 714.2,175.4 714.5,177.7 714.7,180.0 715.0,182.2 715.2,184.4 715.5,186.6 715.7,188.8 716.0,191.0 716.2,192.9 716.5,194.7 716.7,196.6 717.0,198.4 717.2,200.2 717.5,202.0 717.7,203.7 718.0,205.5 718.2,207.3 718.5,209.1 718.7,210.9 719.0,212.6 719.2,214.7 719.5,216.9 719.7,219.1 720.0,221.2 720.2,223.3 720.5,225.5 720.7,227.6 721.0,229.7 721.2,231.8 721.5,233.9 721.7,236.0 722.0,238.1 722.2,240.3 722.5,242.6 722.7,245.2 723.0,247.7 723.2,250.3 723.5,252.8 723.7,255.3 724.0,257.9 724.2,260.4 724.5,263.0 724.7,265.5 725.0,267.1 725.2,268.6 725.5,270.2 725.7,271.7 726.0,273.3 726.2,273.9 726.5,272.4 726.7,270.9 727.0,269.4 727.2,267.9 727.5,266.4 727.7,264.0 728.0,260.2 728.2,256.3 728.5,252.5 728.7,248.7 729.0,244.9 729.2,241.1 729.5,237.8 729.7,234.5 730.0,231.2 730.2,227.8 730.5,224.5 730.7,221.2 731.0,214.5 731.2,205.7 731.5,197.8 731.7,193.7 732.0,189.3 732.2,184.4 732.5,179.0 732.7,174.1 733.0,169.8 733.2,168.2 733.5,166.4 733.7,164.2 734.0,162.2 734.2,162.0 734.5,161.7 734.7,161.5 735.0,161.4 735.2,161.3 735.5,161.2 735.7,162.6 736.0,164.2 736.2,165.7 736.5,167.0 736.7,170.2 737.0,173.7 737.2,177.2 737.5,180.5 737.7,183.8 738.0,186.9 738.2,189.9 738.5,192.7 738.7,195.6 739.0,198.4 739.2,200.3 739.5,202.0 739.7,203.6 740.0,205.3 740.2,206.9 740.5,208.4 740.7,210.0 741.0,211.6 741.2,212.8 741.5,213.6 741.7,214.4 742.0,215.2 742.2,216.0 742.5,216.7 742.7,217.6 743.0,218.4 743.2,219.2 743.5,220.1 743.7,221.7 744.0,223.2 744.2,224.8 744.5,226.4 744.7,227.9 745.0,229.5 745.2,231.4 745.5,233.3 745.7,235.3 746.0,237.2 746.2,239.2 746.5,241.1 746.7,243.1 747.0,245.0 747.2,247.0 747.5,248.9 747.7,249.7 748.0,250.2 748.2,250.7 748.5,251.2 748.7,251.6 749.0,252.1 749.2,252.6 749.5,253.1 749.7,253.6 750.0,254.3 750.2,255.8 750.5,257.3 750.7,258.9 751.0,260.4 751.2,261.9 751.5,263.5 751.7,248.6 752.0,210.1 752.2,171.6 752.5,151.1 752.7,142.7 753.0,134.2 753.2,125.7 753.5,117.0 753.7,108.4 754.0,99.7 754.2,91.0 754.5,82.2 754.7,73.3 755.0,68.9 755.2,67.6 755.5,66.1 755.7,64.4 756.0,63.2 756.2,62.5 756.5,61.7 756.7,61.0 757.0,60.2 757.2,59.7 757.5,59.6 757.7,59.5 758.0,59.4 758.2,59.4 758.5,59.6 758.7,59.8 759.0,60.0 759.2,60.3 759.5,62.3 759.7,63.8 760.0,65.4 760.2,67.6 760.5,70.0 760.7,73.1 761.0,76.1 761.2,78.9 761.5,81.6 761.7,90.9 762.0,101.6 762.2,112.3 762.5,123.1 762.7,131.2 763.0,135.4 763.2,139.7 763.5,143.9 763.7,148.1 764.0,152.3 764.2,156.6 764.5,160.8 764.7,165.0 765.0,169.1 765.2,173.3 765.5,177.5 765.7,182.0 766.0,186.9 766.2,191.8 766.5,196.8 766.7,201.7 767.0,206.6 767.2,211.5 767.5,216.4 767.7,221.3 768.0,226.3 768.2,231.2 768.5,233.6 768.7,236.1 769.0,238.6 769.2,241.0 769.5,243.5 769.7,246.0 770.0,248.4 770.2,250.9 770.5,253.3 770.7,255.8 771.0,258.5 771.2,261.4 771.5,264.2 771.7,266.1 772.0,263.5 772.2,260.9 772.5,258.3 772.7,254.5 773.0,248.7 773.2,242.8 773.5,237.0 773.7,231.2 774.0,225.4 774.2,219.6 774.5,213.8 774.7,208.0 775.0,202.2 775.2,196.3 775.5,190.5 775.7,184.7 776.0,175.0 776.2,150.0 776.5,127.2 776.7,113.6 777.0,100.0 777.2,85.9 777.5,71.4 777.7,65.9 778.0,62.3 778.2,58.2 778.5,53.6 778.7,50.3 779.0,47.4 779.2,44.5 779.5,43.9 779.7,43.3 780.0,42.7 780.2,42.1 780.5,42.5 780.7,42.9 781.0,43.3 781.2,43.7 781.5,46.0 781.7,48.2 782.0,50.5 782.2,52.7 782.5,56.3 782.7,60.2 783.0,64.1 783.2,68.0 783.5,71.7 783.7,77.6 784.0,84.0 784.2,90.3 784.5,96.5 784.7,102.7 785.0,108.9 785.2,115.0 785.5,121.1 785.7,127.2 786.0,134.4 786.2,142.3 786.5,150.2 786.7,158.0 787.0,165.9 787.2,173.7 787.5,180.5 787.7,183.1 788.0,185.6 788.2,188.2 788.5,190.8 788.7,193.4 789.0,196.0 789.2,198.6 789.5,201.5 789.7,205.7 790.0,210.0 790.2,214.2 790.5,218.5 790.7,222.7 791.0,226.9 791.2,231.2 791.5,235.5 791.7,239.8 792.0,244.0 792.2,248.3 792.5,252.6 792.7,256.9 793.0,261.2 793.2,263.0 793.5,264.2 793.7,265.3 794.0,266.5 794.2,267.7 794.5,268.9 794.7,270.0 795.0,271.2 795.2,272.4 795.5,273.6 795.7,273.1 796.0,269.7 796.2,266.3 796.5,262.9 796.7,259.5 797.0,255.0 797.2,245.8 797.5,236.7 797.7,227.6 798.0,218.4 798.2,209.3 798.5,200.2 798.7,191.0 799.0,181.9 799.2,136.8 799.5,82.6 799.7,71.0 800.0,70.1 800.2,68.5 800.5,64.4 800.7,62.2 801.0,61.2 801.2,60.1 801.5,59.1 801.7,58.0 802.0,57.0 802.2,55.9 802.5,55.1 802.7,54.9 803.0,54.8 803.2,54.7 803.5,54.6 803.7,54.8 804.0,55.0 804.2,55.2 804.5,55.4 804.7,55.8 805.0,56.2 805.2,56.6 805.5,57.0 805.7,57.5 806.0,58.0 806.2,58.5 806.5,59.0 806.7,59.9 807.0,60.8 807.2,61.7 807.5,62.3 807.7,62.3 808.0,62.3 808.2,62.3 808.5,62.3" fill="none" stroke="#ff8080" stroke-width="2.2" stroke-linejoin="round"/>
<rect x="126.0" y="57.0" width="3.2" height="7.5" fill="#ff8080"/>
<rect x="148.4" y="57.0" width="3.2" height="7.8" fill="#ff8080"/>
<rect x="170.8" y="56.0" width="3.2" height="7.8" fill="#ff8080"/>
<rect x="193.0" y="63.2" width="3.2" height="7.7" fill="#ff8080"/>
<rect x="215.8" y="68.1" width="3.2" height="6.9" fill="#ff8080"/>
<rect x="237.7" y="147.1" width="3.2" height="7.6" fill="#ff8080"/>
<rect x="262.1" y="194.9" width="3.2" height="8.2" fill="#ff8080"/>
<rect x="282.8" y="57.0" width="3.2" height="7.8" fill="#ff8080"/>
<rect x="305.8" y="64.0" width="3.2" height="6.9" fill="#ff8080"/>
<rect x="328.4" y="74.2" width="3.2" height="5.6" fill="#ff8080"/>
<rect x="351.4" y="70.0" width="3.2" height="6.9" fill="#ff8080"/>
<rect x="372.9" y="111.2" width="3.2" height="9.2" fill="#ff8080"/>
<rect x="395.8" y="155.3" width="3.2" height="6.9" fill="#ff8080"/>
<rect x="418.2" y="171.6" width="3.2" height="5.4" fill="#ff8080"/>
<rect x="440.8" y="74.2" width="3.2" height="7.2" fill="#ff8080"/>
<rect x="462.8" y="65.0" width="3.2" height="7.8" fill="#ff8080"/>
<rect x="485.4" y="70.0" width="3.2" height="6.9" fill="#ff8080"/>
<rect x="507.4" y="70.0" width="3.2" height="5.9" fill="#ff8080"/>
<rect x="530.4" y="69.0" width="3.2" height="6.9" fill="#ff8080"/>
<rect x="552.7" y="125.0" width="3.2" height="7.1" fill="#ff8080"/>
<rect x="575.5" y="163.0" width="3.2" height="9.9" fill="#ff8080"/>
<rect x="598.4" y="71.0" width="3.2" height="8.8" fill="#ff8080"/>
<rect x="620.8" y="65.0" width="3.2" height="7.8" fill="#ff8080"/>
<rect x="642.8" y="63.2" width="3.2" height="7.7" fill="#ff8080"/>
<rect x="664.9" y="121.6" width="3.2" height="6.9" fill="#ff8080"/>
<rect x="688.9" y="132.0" width="3.2" height="8.9" fill="#ff8080"/>
<rect x="709.9" y="154.1" width="3.2" height="7.2" fill="#ff8080"/>
<rect x="733.9" y="160.1" width="3.2" height="14.5" fill="#ff8080"/>
<rect x="756.5" y="58.2" width="3.2" height="7.6" fill="#ff8080"/>
<rect x="778.6" y="41.0" width="3.2" height="13.2" fill="#ff8080"/>
<rect x="801.8" y="53.5" width="3.2" height="7.7" fill="#ff8080"/>
<polyline points="125.2,119.4 125.5,113.3 125.7,105.9 126.0,96.7 126.2,87.5 126.5,78.3 126.7,72.0 127.0,69.9 127.2,67.8 127.5,65.7 127.7,64.5 128.0,66.1 128.2,67.2 128.4,68.3 128.7,69.4 128.9,70.5 129.2,72.5 129.4,74.7 129.7,76.9 129.9,79.1 130.2,81.3 130.4,83.5 130.7,85.6 130.9,87.8 131.2,90.0 131.4,94.2 131.7,103.5 131.9,112.8 132.2,122.1 132.4,129.7 132.7,137.2 132.9,144.6 133.2,152.9 133.4,161.8 133.7,170.8 133.9,176.6 134.2,181.4 134.4,186.3 134.7,191.1 134.9,195.9 135.2,201.0 135.4,207.2 135.7,213.4 135.9,219.6 136.2,226.8 136.4,234.3 136.7,241.7 136.9,245.8 137.2,250.0 137.4,254.1 137.7,258.2 137.9,262.4 138.2,263.6 138.4,264.8 138.7,265.9 138.9,267.1 139.2,268.2 139.4,269.4 139.7,270.5 139.9,271.2 140.2,271.5 140.4,271.9 140.7,272.3 140.9,272.7 141.2,273.1 141.4,273.5 141.7,273.4 141.9,272.7 142.2,272.0 142.4,271.3 142.7,270.1 142.9,268.1 143.2,266.0 143.4,263.9 143.7,260.7 143.9,255.0 144.2,249.4 144.4,243.8 144.7,238.6 144.9,233.6 145.2,228.7 145.4,223.7 145.7,218.8 145.9,208.2 146.2,194.0 146.4,179.7 146.7,165.4 146.9,151.0 147.2,136.8 147.4,123.4 147.7,110.6 147.9,100.3 148.2,90.7 148.4,84.5 148.7,78.3 148.9,74.2 149.2,71.9 149.4,69.7 149.7,67.5 149.9,64.9 150.2,65.7 150.4,66.8 150.7,67.9 150.9,69.0 151.2,70.0 151.4,71.1 151.7,73.3 151.9,75.4 152.2,77.5 152.4,79.6 152.7,81.7 152.9,83.8 153.2,85.9 153.4,88.0 153.7,90.1 153.9,93.9 154.2,102.9 154.4,111.9 154.7,120.8 154.9,128.4 155.2,135.5 155.4,142.7 155.7,150.4 155.9,159.0 156.2,167.6 156.4,174.4 156.7,179.0 156.9,183.7 157.2,188.4 157.4,193.0 157.7,197.7 157.9,203.3 158.2,209.2 158.4,215.2 158.7,221.5 158.9,228.6 159.2,235.8 159.4,241.8 159.7,245.8 159.9,249.8 160.2,253.8 160.4,257.8 160.7,261.2 160.9,262.4 161.2,263.5 161.4,264.6 161.7,265.7 161.9,266.8 162.2,267.9 162.4,269.0 162.7,269.6 162.9,269.9 163.2,270.3 163.4,270.7 163.7,271.1 163.9,271.4 164.2,271.8 164.4,272.0 164.7,271.2 164.9,270.5 165.2,269.8 165.4,268.5 165.7,266.4 165.9,264.2 166.2,262.0 166.4,257.9 166.7,252.0 166.9,246.1 167.2,240.3 167.4,235.1 167.7,229.9 167.9,224.7 168.2,219.5 168.4,212.4 168.7,197.5 168.9,182.5 169.2,167.6 169.4,152.5 169.7,137.5 169.9,123.4 170.2,109.9 170.4,99.1 170.7,89.3 170.9,82.8 171.2,76.3 171.4,72.7 171.7,70.4 171.9,68.1 172.2,65.7 172.4,63.9 172.7,65.2 172.9,66.3 173.2,67.4 173.4,68.5 173.7,69.6 173.9,71.4 174.2,73.5 174.4,75.7 174.7,77.9 174.9,80.0 175.2,82.2 175.4,84.4 175.7,86.5 175.9,88.7 176.2,91.4 176.4,100.6 176.7,109.8 176.9,119.0 177.2,126.9 177.4,134.3 177.7,141.6 177.9,149.5 178.2,158.4 178.4,167.2 178.7,173.8 178.9,178.5 179.2,183.3 179.4,188.1 179.7,192.9 179.9,197.7 180.2,203.8 180.4,209.9 180.7,216.0 180.9,222.9 181.2,230.3 181.4,237.6 181.7,242.4 181.9,246.5 182.2,250.6 182.4,254.7 182.7,258.7 182.9,260.6 183.2,261.7 183.4,262.8 183.7,264.0 183.9,265.1 184.2,266.2 184.4,267.4 184.7,268.2 184.9,268.5 185.2,268.9 185.4,269.3 185.7,269.7 185.9,270.1 186.2,270.5 186.4,270.6 186.7,269.9 186.9,269.2 187.2,268.5 187.4,267.5 187.7,265.5 187.9,263.5 188.2,261.4 188.4,258.3 188.7,252.7 188.9,247.2 189.2,241.7 189.4,236.7 189.7,231.8 189.9,226.9 190.2,222.1 190.4,217.2 190.7,205.1 190.9,191.1 191.2,177.2 191.4,163.1 191.7,148.9 191.9,135.3 192.2,122.1 192.4,110.8 192.7,100.6 192.9,93.0 193.2,86.9 193.4,80.9 193.7,78.7 193.9,76.5 194.2,74.3 194.4,72.2 194.7,70.9 194.9,72.5 195.2,73.6 195.4,74.8 195.7,75.9 195.9,77.1 196.2,79.4 196.4,81.6 196.7,83.9 196.9,86.1 197.2,88.4 197.4,90.6 197.7,92.9 197.9,95.1 198.2,97.4 198.4,106.4 198.7,116.0 198.9,125.6 199.2,133.8 199.4,141.4 199.7,149.1 199.9,157.5 200.2,166.7 200.4,175.9 200.7,181.6 200.9,186.6 201.2,191.6 201.4,196.5 201.7,201.5 201.9,207.1 202.2,213.5 202.4,219.9 202.7,226.6 202.9,234.2 203.2,241.9 203.4,247.6 203.7,251.9 203.9,256.1 204.2,260.4 204.4,264.7 204.7,266.6 204.9,267.8 205.2,269.0 205.4,270.2 205.7,271.4 205.9,272.5 206.2,273.7 206.4,274.3 206.7,274.7 206.9,275.1 207.2,275.5 207.4,275.9 207.7,276.3 207.9,276.7 208.2,276.3 208.4,275.7 208.7,275.1 208.9,274.5 209.2,273.5 209.4,271.7 209.7,269.9 209.9,268.2 210.2,266.4 210.4,262.2 210.7,257.3 210.9,252.5 211.2,247.6 211.4,243.1 211.7,238.8 211.9,234.6 212.2,230.3 212.4,226.0 212.7,221.7 212.9,209.4 213.2,197.1 213.4,184.8 213.7,172.5 213.9,160.0 214.2,147.5 214.4,135.9 214.7,124.3 214.9,114.7 215.2,105.8 215.4,98.5 215.7,93.2 215.9,87.8 216.2,84.1 216.4,82.2 216.7,80.3 216.9,78.4 217.2,76.4 217.4,74.9 217.7,76.1 217.9,77.1 218.2,78.1 218.4,79.1 218.7,80.1 218.9,81.3 219.2,83.2 219.4,85.2 219.7,87.1 219.9,89.1 220.2,91.0 220.4,93.0 220.7,94.9 220.9,96.9 221.2,98.8 221.4,100.8 221.7,109.1 221.9,117.4 222.2,125.7 222.4,133.3 222.7,139.9 222.9,146.6 223.2,153.2 223.4,160.9 223.7,168.9 223.9,176.8 224.2,181.9 224.4,186.2 224.7,190.5 224.9,194.8 225.2,199.1 225.4,203.4 225.7,208.7 225.9,214.2 226.2,219.8 226.4,225.5 226.7,232.2 226.9,238.8 227.2,244.8 227.4,248.5 227.7,252.2 227.9,255.9 228.2,259.6 228.4,263.3 228.7,264.8 228.9,265.8 229.2,266.9 229.4,267.9 229.7,268.9 229.9,269.9 230.2,270.9 230.4,272.0 230.7,272.3 230.9,272.7 231.2,273.0 231.4,273.4 231.7,273.7 231.9,274.1 232.2,274.4 232.4,274.2 232.7,271.8 232.9,269.4 233.2,267.0 233.4,264.6 233.7,262.2 233.9,259.9 234.2,257.5 234.4,255.1 234.7,252.7 234.9,250.3 235.2,246.3 235.4,242.0 235.7,237.6 235.9,233.3 236.2,228.9 236.4,224.6 236.7,220.2 236.9,215.9 237.2,202.4 237.4,186.7 237.7,171.0 237.9,163.7 238.2,162.1 238.4,160.4 238.7,158.7 238.9,157.0 239.2,154.7 239.4,155.9 239.7,158.0 239.9,160.0 240.2,162.1 240.4,164.1 240.7,166.0 240.9,167.8 241.2,169.7 241.4,171.5 241.7,173.3 241.9,175.2 242.2,177.1 242.4,179.1 242.7,181.0 242.9,183.0 243.2,184.9 243.4,186.8 243.7,188.8 243.9,190.1 244.2,191.3 244.4,192.6 244.7,193.9 244.9,195.2 245.2,196.5 245.4,198.0 245.7,200.4 245.9,202.8 246.2,205.3 246.4,207.7 246.7,210.1 246.9,212.6 247.2,215.0 247.4,217.6 247.7,220.3 247.9,222.9 248.2,225.5 248.4,228.2 248.7,230.8 248.9,233.4 249.2,235.9 249.4,238.4 249.7,240.9 249.9,243.3 250.2,245.8 250.4,248.3 250.7,250.5 250.9,252.1 251.2,253.7 251.4,255.3 251.7,256.9 251.9,258.6 252.2,260.2 252.4,261.8 252.7,263.4 252.9,265.1 253.2,266.7 253.4,268.5 253.7,270.4 253.9,272.3 254.2,274.1 254.4,276.0 254.7,277.9 254.9,279.8 255.2,278.7 255.4,276.8 255.7,274.9 255.9,273.0 256.2,271.1 256.4,269.2 256.7,267.3 256.9,264.9 257.2,262.5 257.4,260.0 257.7,257.6 257.9,255.2 258.2,252.7 258.4,250.3 258.7,247.8 258.9,245.3 259.2,242.8 259.4,240.4 259.7,237.9 259.9,235.4 260.2,232.9 260.4,230.4 260.7,227.9 260.9,225.4 261.2,223.0 261.4,220.5 261.7,218.0 261.9,215.5 262.2,213.6 262.4,211.9 262.7,210.1 262.9,208.4 263.2,206.6 263.4,204.9 263.7,203.1 263.9,204.8 264.2,206.4 264.4,208.1 264.7,209.7 264.9,211.4 265.2,213.0 265.4,214.7 265.7,215.8 265.9,216.9 266.2,217.9 266.4,219.0 266.7,220.0 266.9,221.0 267.2,222.1 267.4,223.1 267.7,224.2 267.9,225.2 268.2,226.2 268.4,227.3 268.7,228.3 268.9,229.4 269.2,230.4 269.4,231.4 269.7,232.5 269.9,233.9 270.2,235.5 270.4,237.1 270.7,238.7 270.9,240.4 271.2,242.0 271.4,243.6 271.7,245.3 271.9,246.9 272.2,248.5 272.4,250.1 272.7,251.8 272.9,253.5 273.2,255.2 273.4,256.9 273.7,258.6 273.9,260.3 274.2,261.9 274.4,263.6 274.7,265.3 274.9,267.0 275.2,268.8 275.4,270.7 275.7,272.5 275.9,274.4 276.2,276.2 276.4,278.1 276.7,280.0 276.9,280.2 277.2,279.4 277.4,278.6 277.7,277.8 277.9,275.6 278.2,273.2 278.4,270.8 278.7,267.2 278.9,260.8 279.2,254.4 279.4,248.0 279.7,242.3 279.9,236.6 280.2,230.9 280.4,225.3 280.7,215.4 280.9,199.1 281.2,182.8 281.4,166.5 281.7,150.0 281.9,134.1 282.2,118.8 282.4,105.9 282.7,94.1 282.9,86.5 283.2,79.5 283.4,74.5 283.7,71.9 283.9,69.4 284.2,66.9 284.4,64.9 284.7,66.1 284.9,67.2 285.2,68.2 285.4,69.3 285.7,70.3 285.9,71.8 286.2,73.8 286.4,75.9 286.7,78.0 286.9,80.0 287.2,82.1 287.4,84.2 287.7,86.2 287.9,88.3 288.2,90.4 288.4,95.3 288.7,104.1 288.9,112.9 289.2,121.7 289.4,128.8 289.7,135.9 289.9,142.9 290.2,150.5 290.4,158.9 290.7,167.4 290.9,173.9 291.2,178.4 291.4,183.0 291.7,187.6 291.9,192.1 292.2,196.7 292.4,202.1 292.7,208.0 292.9,213.8 293.2,219.9 293.4,226.9 293.7,233.9 293.9,240.2 294.2,244.1 294.4,248.0 294.7,251.9 294.9,255.8 295.2,259.7 295.4,260.8 295.7,261.9 295.9,263.0 296.2,264.1 296.4,265.2 296.7,266.2 296.9,267.3 297.2,268.1 297.4,268.5 297.7,268.9 297.9,269.2 298.2,269.6 298.4,270.0 298.7,270.3 298.9,270.7 299.2,270.2 299.4,269.5 299.7,268.9 299.9,268.2 300.2,266.5 300.4,264.5 300.7,262.6 300.9,260.6 301.2,256.1 301.4,250.7 301.7,245.3 301.9,240.0 302.2,235.2 302.4,230.5 302.7,225.7 302.9,221.0 303.2,216.3 303.4,202.6 303.7,189.0 303.9,175.4 304.2,161.6 304.4,147.8 304.7,134.6 304.9,121.7 305.2,110.7 305.4,100.8 305.7,93.3 305.9,87.3 306.2,81.4 306.4,78.9 306.7,76.8 306.9,74.7 307.2,72.6 307.4,70.9 307.7,72.1 307.9,73.1 308.2,74.2 308.4,75.2 308.7,76.2 308.9,77.6 309.2,79.6 309.4,81.6 309.7,83.6 309.9,85.7 310.2,87.7 310.4,89.7 310.7,91.7 310.9,93.7 311.2,95.7 311.4,100.6 311.7,109.2 311.9,117.7 312.2,126.3 312.4,133.3 312.7,140.1 312.9,147.0 313.2,154.4 313.4,162.6 313.7,170.9 313.9,177.2 314.2,181.6 314.4,186.1 314.7,190.6 314.9,195.0 315.2,199.5 315.4,204.8 315.7,210.5 315.9,216.2 316.2,222.1 316.4,228.9 316.7,235.8 316.9,241.9 317.2,245.7 317.4,249.5 317.7,253.3 317.9,257.1 318.2,260.9 318.4,262.0 318.7,263.1 318.9,264.2 319.2,265.2 319.4,266.3 319.7,267.3 319.9,268.4 320.2,269.2 320.4,269.5 320.7,269.9 320.9,270.2 321.2,270.6 321.4,271.0 321.7,271.3 321.9,271.7 322.2,271.2 322.4,270.5 322.7,269.8 322.9,269.1 323.2,267.2 323.4,265.2 323.7,263.2 323.9,260.8 324.2,255.4 324.4,249.9 324.7,244.5 324.9,239.5 325.2,234.7 325.4,229.9 325.7,225.1 325.9,220.3 326.2,208.4 326.4,194.7 326.7,180.9 326.9,167.0 327.2,153.1 327.4,139.8 327.7,126.9 327.9,116.2 328.2,106.3 328.4,99.7 328.7,93.7 328.9,88.8 329.2,86.6 329.4,84.5 329.7,82.4 329.9,79.8 330.2,80.8 330.4,81.9 330.7,83.1 330.9,84.3 331.2,85.5 331.4,87.3 331.7,89.6 331.9,91.9 332.2,94.3 332.4,96.6 332.7,98.9 332.9,101.2 333.2,103.5 333.4,105.8 333.7,113.8 333.9,123.6 334.2,133.5 334.4,142.0 334.7,149.9 334.9,157.7 335.2,166.4 335.4,175.8 335.7,185.2 335.9,190.7 336.2,195.8 336.4,200.9 336.7,206.0 336.9,211.1 337.2,217.2 337.4,223.8 337.7,230.3 337.9,237.7 338.2,245.5 338.4,253.4 338.7,257.7 338.9,262.1 339.2,266.5 339.4,270.8 339.7,274.2 339.9,275.4 340.2,276.6 340.4,277.8 340.7,279.0 340.9,280.2 341.2,281.4 341.4,282.2 341.7,282.6 341.9,283.0 342.2,283.4 342.4,283.8 342.7,284.2 342.9,284.7 343.2,284.3 343.4,283.7 343.7,283.1 343.9,282.5 344.2,281.9 344.4,280.2 344.7,278.5 344.9,276.8 345.2,275.0 345.4,272.7 345.7,268.0 345.9,263.3 346.2,258.6 346.4,253.9 346.7,249.6 346.9,245.5 347.2,241.3 347.4,237.2 347.7,233.0 347.9,228.9 348.2,218.6 348.4,206.6 348.7,194.7 348.9,182.8 349.2,170.8 349.4,158.7 349.7,147.0 349.9,135.7 350.2,124.5 350.4,115.9 350.7,107.3 350.9,100.7 351.2,95.5 351.4,90.3 351.7,86.5 351.9,84.6 352.2,82.8 352.4,80.9 352.7,79.1 352.9,76.9 353.2,77.5 353.4,78.2 353.7,78.9 353.9,79.6 354.2,80.3 354.4,81.1 354.7,81.8 354.9,82.5 355.2,83.9 355.4,85.4 355.7,86.9 355.9,88.5 356.2,90.0 356.4,91.5 356.7,93.1 356.9,94.6 357.2,102.0 357.4,111.0 357.7,119.9 357.9,128.9 358.2,137.8 358.4,148.4 358.7,159.0 358.9,169.6 359.2,180.2 359.4,190.8 359.7,197.4 359.9,202.9 360.2,208.4 360.4,213.9 360.7,219.4 360.9,224.9 361.2,230.4 361.4,236.0 361.7,239.4 361.9,242.3 362.2,245.2 362.4,248.1 362.7,251.0 362.9,253.9 363.2,256.9 363.4,259.8 363.7,261.6 363.9,263.1 364.2,264.6 364.4,266.2 364.7,267.7 364.9,268.2 365.2,268.0 365.4,267.8 365.7,267.7 365.9,267.5 366.2,267.3 366.4,267.1 366.7,267.9 366.9,269.0 367.2,270.1 367.4,271.2 367.7,282.9 367.9,297.4 368.2,311.8 368.4,311.8 368.7,311.8 368.9,311.8 369.2,311.8 369.4,311.8 369.7,311.8 369.9,311.8 370.2,311.8 370.4,311.8 370.7,282.8 370.9,210.3 371.2,137.8 371.4,135.9 371.7,134.0 371.9,132.2 372.2,130.3 372.4,128.4 372.7,126.6 372.9,124.7 373.2,123.8 373.4,123.1 373.7,122.5 373.9,121.8 374.2,121.2 374.4,120.4 374.7,120.9 374.9,121.6 375.2,122.2 375.4,122.9 375.7,123.5 375.9,124.2 376.2,126.3 376.4,128.7 376.7,131.2 376.9,133.6 377.2,136.1 377.4,138.5 377.7,141.0 377.9,143.4 378.2,147.1 378.4,151.1 378.7,155.1 378.9,159.1 379.2,163.1 379.4,167.2 379.7,171.2 379.9,175.2 380.2,179.2 380.4,183.2 380.7,187.2 380.9,191.2 381.2,195.1 381.4,199.1 381.7,203.1 381.9,207.0 382.2,211.0 382.4,215.0 382.7,219.0 382.9,222.9 383.2,226.9 383.4,230.8 383.7,234.6 383.9,238.4 384.2,242.1 384.4,245.9 384.7,249.7 384.9,253.5 385.2,256.3 385.4,258.8 385.7,261.4 385.9,263.9 386.2,266.5 386.4,269.0 386.7,271.6 386.9,274.1 387.2,276.6 387.4,299.8 387.7,304.9 387.9,305.4 388.2,301.3 388.4,296.2 388.7,291.0 388.9,285.9 389.2,280.8 389.4,276.3 389.7,274.7 389.9,273.0 390.2,271.4 390.4,269.7 390.7,268.1 390.9,266.4 391.2,264.8 391.4,263.1 391.7,261.5 391.9,259.8 392.2,258.2 392.4,256.5 392.7,254.9 392.9,251.6 393.2,247.3 393.4,243.0 393.7,238.7 393.9,234.4 394.2,230.1 394.4,212.6 394.7,195.1 394.9,177.7 395.2,173.2 395.4,171.9 395.7,170.7 395.9,169.4 396.2,168.2 396.4,166.9 396.7,165.7 396.9,164.4 397.2,163.2 397.4,162.2 397.7,168.7 397.9,174.1 398.2,179.5 398.4,182.6 398.7,184.1 398.9,185.6 399.2,187.1 399.4,188.6 399.7,190.1 399.9,191.6 400.2,193.1 400.4,194.6 400.7,196.1 400.9,197.6 401.2,199.1 401.4,200.9 401.7,202.6 401.9,204.3 402.2,206.0 402.4,207.8 402.7,209.5 402.9,211.2 403.2,213.1 403.4,215.0 403.7,217.0 403.9,218.9 404.2,220.8 404.4,222.8 404.7,224.7 404.9,226.6 405.2,228.5 405.4,231.2 405.7,236.5 405.9,241.9 406.2,247.3 406.4,252.6 406.7,258.0 406.9,259.2 407.2,260.3 407.4,261.5 407.7,262.7 407.9,263.8 408.2,265.0 408.4,266.1 408.7,267.3 408.9,268.5 409.2,269.6 409.4,270.8 409.7,271.7 409.9,272.7 410.2,273.6 410.4,274.5 410.7,275.4 410.9,276.3 411.2,277.3 411.4,278.2 411.7,279.1 411.9,280.0 412.2,280.9 412.4,281.9 412.7,282.8 412.9,280.2 413.2,277.6 413.4,275.0 413.7,272.4 413.9,269.8 414.2,267.2 414.4,262.1 414.7,256.9 414.9,251.7 415.2,246.6 415.4,241.4 415.7,236.3 415.9,231.1 416.2,223.5 416.4,215.2 416.7,207.0 416.9,198.7 417.2,190.5 417.4,186.6 417.7,185.6 417.9,184.5 418.2,183.5 418.4,182.5 418.7,181.5 418.9,180.5 419.2,179.4 419.4,178.4 419.7,177.0 419.9,178.3 420.2,180.4 420.4,182.5 420.7,184.6 420.9,186.8 421.2,188.4 421.4,189.8 421.7,191.3 421.9,192.8 422.2,194.3 422.4,195.8 422.7,197.3 422.9,198.7 423.2,200.2 423.4,201.7 423.7,203.1 423.9,204.4 424.2,205.7 424.4,207.1 424.7,208.4 424.9,209.7 425.2,211.0 425.4,212.9 425.7,215.1 425.9,217.3 426.2,219.5 426.4,221.7 426.7,223.9 426.9,226.1 427.2,228.3 427.4,230.8 427.7,234.6 427.9,238.4 428.2,242.1 428.4,245.9 428.7,249.7 428.9,253.5 429.2,256.5 429.4,259.5 429.7,262.4 429.9,265.3 430.2,268.2 430.4,271.1 430.7,273.2 430.9,274.0 431.2,274.8 431.4,275.6 431.7,276.5 431.9,277.3 432.2,278.1 432.4,278.9 432.7,279.8 432.9,279.7 433.2,279.1 433.4,278.5 433.7,278.0 433.9,277.4 434.2,275.7 434.4,273.9 434.7,272.2 434.9,270.5 435.2,267.6 435.4,263.0 435.7,258.3 435.9,253.6 436.2,249.0 436.4,244.9 436.7,240.7 436.9,236.6 437.2,232.5 437.4,228.4 437.7,221.2 437.9,209.3 438.2,197.4 438.4,185.6 438.7,173.6 438.9,161.6 439.2,149.8 439.4,138.6 439.7,127.5 439.9,118.8 440.2,110.2 440.4,103.8 440.7,98.6 440.9,93.5 441.2,90.2 441.4,88.4 441.7,86.6 441.9,84.7 442.2,82.9 442.4,81.4 442.7,82.6 442.9,83.6 443.2,84.5 443.4,85.5 443.7,86.5 443.9,87.8 444.2,89.7 444.4,91.7 444.7,93.6 444.9,95.5 445.2,97.4 445.4,99.3 445.7,101.3 445.9,103.2 446.2,105.1 446.4,109.7 446.7,117.9 446.9,126.0 447.2,134.2 447.4,140.8 447.7,147.4 447.9,153.9 448.2,161.0 448.4,168.8 448.7,176.6 448.9,182.7 449.2,186.9 449.4,191.1 449.7,195.4 449.9,199.6 450.2,203.9 450.4,208.9 450.7,214.3 450.9,219.8 451.2,225.4 451.4,231.9 451.7,238.4 451.9,244.3 452.2,247.9 452.4,251.5 452.7,255.2 452.9,258.8 453.2,262.4 453.4,263.5 453.7,264.5 453.9,265.5 454.2,266.5 454.4,267.5 454.7,268.5 454.9,269.5 455.2,270.2 455.4,270.6 455.7,270.9 455.9,271.3 456.2,271.6 456.4,272.0 456.7,272.3 456.9,272.7 457.2,272.1 457.4,271.3 457.7,270.6 457.9,269.4 458.2,267.2 458.4,265.0 458.7,262.7 458.9,257.8 459.2,251.7 459.4,245.5 459.7,239.7 459.9,234.4 460.2,229.0 460.4,223.6 460.7,218.2 460.9,202.7 461.2,187.3 461.4,171.8 461.7,156.1 461.9,140.7 462.2,126.1 462.4,113.2 462.7,102.0 462.9,93.9 463.2,87.2 463.4,82.0 463.7,79.6 463.9,77.2 464.2,74.8 464.4,72.8 464.7,74.0 464.9,75.0 465.2,76.0 465.4,77.0 465.7,78.0 465.9,79.1 466.2,81.0 466.4,83.0 466.7,84.9 466.9,86.9 467.2,88.8 467.4,90.8 467.7,92.7 467.9,94.7 468.2,96.6 468.4,98.6 468.7,105.5 468.9,113.7 469.2,122.0 469.4,130.0 469.7,136.7 469.9,143.3 470.2,149.9 470.4,157.2 470.7,165.1 470.9,173.0 471.2,179.3 471.4,183.6 471.7,187.9 471.9,192.2 472.2,196.5 472.4,200.8 472.7,205.6 472.9,211.1 473.2,216.6 473.4,222.1 473.7,228.4 473.9,235.1 474.2,241.7 474.4,246.3 474.7,250.0 474.9,253.6 475.2,257.3 475.4,261.0 475.7,264.1 475.9,265.1 476.2,266.1 476.4,267.2 476.7,268.2 476.9,269.2 477.2,270.2 477.4,271.2 477.7,272.0 477.9,272.4 478.2,272.7 478.4,273.1 478.7,273.4 478.9,273.8 479.2,274.1 479.4,274.5 479.7,274.4 479.9,273.6 480.2,272.9 480.4,272.1 480.7,270.1 480.9,267.9 481.2,265.7 481.4,262.3 481.7,256.3 481.9,250.2 482.2,244.2 482.4,238.9 482.7,233.5 482.9,228.2 483.2,222.9 483.4,211.6 483.7,196.2 483.9,180.9 484.2,165.5 484.4,149.9 484.7,135.4 484.9,121.2 485.2,110.1 485.4,100.4 485.7,93.8 485.9,87.1 486.2,84.5 486.4,82.1 486.7,79.7 486.9,76.9 487.2,77.6 487.4,78.6 487.7,79.6 487.9,80.5 488.2,81.5 488.4,82.4 488.7,84.0 488.9,85.9 489.2,87.8 489.4,89.6 489.7,91.5 489.9,93.4 490.2,95.3 490.4,97.2 490.7,99.0 490.9,100.9 491.2,103.8 491.4,111.8 491.7,119.8 491.9,127.8 492.2,135.1 492.4,141.5 492.7,147.9 492.9,154.3 493.2,161.7 493.4,169.3 493.7,177.0 493.9,182.3 494.2,186.4 494.4,190.6 494.7,194.7 494.9,198.9 495.2,203.0 495.4,207.8 495.7,213.2 495.9,218.5 496.2,223.8 496.4,230.1 496.7,236.5 496.9,242.9 497.2,247.1 497.4,250.6 497.7,254.2 497.9,257.8 498.2,261.3 498.4,264.3 498.7,265.3 498.9,266.3 499.2,267.3 499.4,268.2 499.7,269.2 499.9,270.2 500.2,271.2 500.4,272.1 500.7,272.4 500.9,272.7 501.2,273.1 501.4,273.4 501.7,273.7 501.9,274.1 502.2,274.4 502.4,274.5 502.7,273.7 502.9,272.8 503.2,271.9 503.4,269.4 503.7,266.9 503.9,264.4 504.2,258.2 504.4,251.3 504.7,244.5 504.9,238.5 505.2,232.5 505.4,226.5 505.7,220.5 505.9,203.2 506.2,186.0 506.4,168.6 506.7,151.1 506.9,134.6 507.2,119.0 507.4,106.5 507.7,97.1 507.9,89.6 508.2,84.5 508.4,81.8 508.7,79.1 508.9,75.9 509.2,76.7 509.4,77.7 509.7,78.7 509.9,79.7 510.2,80.7 510.4,81.7 510.7,83.5 510.9,85.4 511.2,87.4 511.4,89.4 511.7,91.3 511.9,93.3 512.2,95.2 512.5,97.2 512.7,99.2 513.0,101.1 513.2,106.9 513.5,115.3 513.7,123.6 514.0,131.9 514.2,138.6 514.5,145.3 514.7,151.9 515.0,159.2 515.2,167.2 515.5,175.2 515.7,181.7 516.0,186.0 516.2,190.4 516.5,194.7 516.7,199.0 517.0,203.4 517.2,208.2 517.5,213.8 517.7,219.3 518.0,224.9 518.2,231.3 518.5,238.0 518.7,244.7 519.0,249.0 519.2,252.7 519.5,256.4 519.7,260.1 520.0,263.8 520.2,266.4 520.5,267.5 520.7,268.5 521.0,269.5 521.2,270.5 521.5,271.6 521.7,272.6 522.0,273.6 522.2,274.2 522.5,274.6 522.7,274.9 523.0,275.3 523.2,275.6 523.5,276.0 523.7,276.3 524.0,276.7 524.2,276.2 524.5,275.5 524.7,274.8 525.0,274.1 525.2,272.0 525.5,269.9 525.7,267.9 526.0,265.3 526.2,259.7 526.5,254.0 526.7,248.3 527.0,243.0 527.2,238.0 527.5,233.0 527.7,228.0 528.0,223.0 528.2,210.5 528.5,196.1 528.7,181.7 529.0,167.2 529.2,152.6 529.5,138.7 529.7,125.2 530.0,114.0 530.2,103.6 530.5,96.7 530.7,90.4 531.0,85.3 531.2,83.0 531.5,80.8 531.7,78.6 532.0,75.9 532.2,76.8 532.5,77.9 532.7,79.0 533.0,80.2 533.2,81.3 533.5,82.4 533.7,96.3 534.0,113.3 534.2,130.3 534.5,168.4 534.7,200.5 535.0,210.0 535.2,225.4 535.5,236.5 535.7,225.4 536.0,214.2 536.2,212.7 536.5,213.6 536.7,214.5 537.0,215.4 537.2,216.3 537.5,217.3 537.7,219.1 538.0,221.2 538.2,223.3 538.5,225.4 538.7,227.5 539.0,229.6 539.2,231.7 539.5,233.8 539.7,235.9 540.0,238.0 540.2,240.1 540.5,242.2 540.7,244.3 541.0,246.4 541.2,248.2 541.5,249.8 541.7,251.4 542.0,253.1 542.2,254.7 542.5,256.3 542.7,258.0 543.0,259.6 543.2,261.2 543.5,262.9 543.7,264.5 544.0,266.1 544.2,267.5 544.5,268.9 544.7,270.2 545.0,271.5 545.2,272.8 545.5,274.1 545.7,275.5 546.0,276.8 546.2,278.1 546.5,279.4 546.7,280.7 547.0,281.5 547.2,280.0 547.5,278.5 547.7,277.0 548.0,275.4 548.2,273.9 548.5,272.4 548.7,270.9 549.0,269.4 549.2,267.9 549.5,266.4 549.7,264.9 550.0,263.3 550.2,259.0 550.5,254.0 550.7,249.0 551.0,244.0 551.2,239.0 551.5,234.0 551.7,229.0 552.0,224.0 552.2,192.9 552.5,136.6 552.7,136.0 553.0,135.4 553.2,134.8 553.5,134.2 553.7,133.6 554.0,133.0 554.2,132.2 554.5,133.0 554.7,134.5 555.0,136.0 555.2,137.5 555.5,140.6 555.7,150.6 556.0,160.5 556.2,167.2 556.5,169.2 556.7,171.2 557.0,173.1 557.2,175.1 557.5,177.0 557.7,179.0 558.0,180.9 558.2,182.9 558.5,184.9 558.7,187.0 559.0,189.0 559.2,191.0 559.5,193.0 559.7,195.1 560.0,197.1 560.2,199.1 560.5,200.9 560.7,202.5 561.0,204.1 561.2,205.7 561.5,207.3 561.7,208.9 562.0,210.5 562.2,212.1 562.5,213.7 562.7,215.3 563.0,216.9 563.2,218.5 563.5,220.0 563.7,222.8 564.0,227.4 564.2,232.0 564.5,236.6 564.7,241.2 565.0,245.8 565.2,250.4 565.5,253.5 565.7,255.6 566.0,257.6 566.2,259.7 566.5,261.8 566.7,263.9 567.0,265.9 567.2,268.0 567.5,270.1 567.7,272.1 568.0,273.7 568.2,275.0 568.5,276.3 568.7,277.6 569.0,278.9 569.2,280.2 569.5,280.0 569.7,278.8 570.0,277.6 570.2,276.4 570.5,275.2 570.7,274.0 571.0,272.8 571.2,271.6 571.5,270.4 571.7,269.2 572.0,268.1 572.2,266.9 572.5,265.7 572.7,264.5 573.0,263.3 573.2,257.4 573.5,250.4 573.7,243.4 574.0,236.4 574.2,229.4 574.5,222.4 574.7,212.0 575.0,200.7 575.2,189.5 575.5,184.0 575.7,182.3 576.0,180.6 576.2,179.0 576.5,177.3 576.7,175.6 577.0,174.0 577.2,173.0 577.5,173.7 577.7,174.3 578.0,174.8 578.2,175.3 578.5,176.5 578.7,180.3 579.0,184.1 579.2,187.9 579.5,191.6 579.7,195.4 580.0,199.2 580.2,200.8 580.5,201.9 580.7,203.0 581.0,204.1 581.2,205.2 581.5,206.3 581.7,207.4 582.0,208.5 582.2,209.6 582.5,210.8 582.7,212.3 583.0,213.9 583.2,215.4 583.5,217.0 583.7,218.5 584.0,220.1 584.2,222.3 584.5,225.4 584.7,228.5 585.0,231.6 585.2,234.8 585.5,237.9 585.7,241.0 586.0,244.1 586.2,247.3 586.5,250.4 586.7,253.1 587.0,255.1 587.2,257.1 587.5,259.1 587.7,261.1 588.0,263.1 588.2,265.1 588.5,267.1 588.7,269.0 589.0,270.4 589.2,271.8 589.5,273.2 589.7,274.6 590.0,276.0 590.2,277.4 590.5,278.8 590.7,280.1 591.0,280.3 591.2,279.7 591.5,279.1 591.7,278.5 592.0,277.6 592.2,275.8 592.5,274.0 592.7,272.2 593.0,270.4 593.2,266.2 593.5,261.2 593.7,256.3 594.0,251.3 594.2,246.8 594.5,242.5 594.7,238.1 595.0,233.8 595.2,229.4 595.5,223.4 595.7,210.9 596.0,198.4 596.2,185.9 596.5,173.3 596.7,160.6 597.0,148.2 597.2,136.4 597.5,124.9 597.7,115.8 598.0,106.8 598.2,101.0 598.5,95.5 598.7,90.1 599.0,88.0 599.2,86.0 599.5,84.1 599.7,82.1 600.0,79.8 600.2,80.7 600.5,81.7 600.7,82.8 601.0,83.8 601.2,84.9 601.5,86.1 601.7,88.2 602.0,90.2 602.2,92.3 602.5,94.4 602.7,96.4 603.0,98.5 603.2,100.5 603.5,102.6 603.7,104.7 604.0,111.3 604.2,120.0 604.5,128.8 604.7,137.0 605.0,144.0 605.2,151.0 605.5,158.0 605.7,166.4 606.0,174.8 606.2,182.6 606.5,187.1 606.7,191.7 607.0,196.2 607.2,200.8 607.5,205.4 607.7,210.6 608.0,216.5 608.2,222.3 608.5,228.4 608.7,235.4 609.0,242.4 609.2,248.2 609.5,252.1 609.7,255.9 610.0,259.8 610.2,263.7 610.5,266.6 610.7,267.7 611.0,268.8 611.2,269.8 611.5,270.9 611.7,272.0 612.0,273.1 612.2,274.1 612.5,274.6 612.7,275.1 613.0,275.5 613.2,276.0 613.5,276.5 613.7,276.9 614.0,277.4 614.2,276.8 614.5,275.9 614.7,275.1 615.0,274.2 615.2,272.5 615.5,270.4 615.7,268.4 616.0,266.4 616.2,261.8 616.5,256.3 616.7,250.8 617.0,245.4 617.2,240.5 617.5,235.7 617.7,230.8 618.0,226.0 618.2,221.2 618.5,207.3 618.7,193.4 619.0,179.4 619.2,165.4 619.5,151.3 619.7,137.8 620.0,124.7 620.2,113.4 620.5,103.4 620.7,95.7 621.0,89.6 621.2,83.6 621.5,81.0 621.7,78.9 622.0,76.7 622.2,74.6 622.5,72.8 622.7,74.1 623.0,75.2 623.2,76.2 623.5,77.3 623.7,78.4 624.0,80.1 624.2,82.2 624.5,84.2 624.7,86.3 625.0,88.4 625.2,90.5 625.5,92.6 625.7,94.7 626.0,96.8 626.2,99.4 626.5,108.3 626.7,117.2 627.0,126.1 627.2,133.7 627.5,140.8 627.7,147.9 628.0,155.6 628.2,164.1 628.5,172.6 628.7,179.0 629.0,183.6 629.2,188.2 629.5,192.9 629.7,197.5 630.0,202.1 630.2,208.0 630.5,213.9 630.7,219.8 631.0,226.5 631.2,233.6 631.5,240.7 631.7,245.3 632.0,249.2 632.2,253.2 632.5,257.1 632.7,261.1 633.0,262.9 633.2,264.0 633.5,265.1 633.7,266.1 634.0,267.2 634.2,268.3 634.5,269.4 634.7,270.2 635.0,270.7 635.2,271.2 635.5,271.7 635.7,272.1 636.0,272.6 636.2,273.1 636.5,273.3 636.7,272.4 637.0,271.5 637.2,270.6 637.5,269.2 637.7,267.1 638.0,265.0 638.2,262.9 638.5,259.0 638.7,253.3 639.0,247.5 639.2,241.8 639.5,236.8 639.7,231.8 640.0,226.7 640.2,221.7 640.5,214.8 640.7,200.3 641.0,185.9 641.2,171.4 641.5,156.8 641.7,142.2 642.0,128.6 642.2,115.5 642.5,105.0 642.7,95.5 643.0,89.2 643.2,82.9 643.5,79.4 643.7,77.2 644.0,74.9 644.2,72.7 644.5,70.9 644.7,72.0 645.0,73.0 645.2,74.0 645.5,74.9 645.7,75.9 646.0,76.9 646.2,78.6 646.5,80.5 646.7,82.4 647.0,84.3 647.2,86.2 647.5,88.1 647.7,90.0 648.0,91.9 648.2,93.8 648.5,95.7 648.7,98.4 649.0,106.4 649.2,114.5 649.5,122.5 649.7,130.0 650.0,136.4 650.2,142.9 650.5,149.3 650.7,156.5 651.0,164.2 651.2,171.9 651.5,178.2 651.7,182.4 652.0,186.6 652.2,190.8 652.5,195.0 652.7,199.2 653.0,203.4 653.2,208.8 653.5,214.1 653.7,219.5 654.0,225.2 654.2,231.6 654.5,238.0 654.7,244.1 655.0,247.7 655.2,251.3 655.5,254.9 655.7,258.4 656.0,262.0 656.2,264.5 656.5,265.4 656.7,266.4 657.0,267.4 657.2,268.4 657.5,269.4 657.7,270.4 658.0,271.4 658.2,272.3 658.5,272.7 658.7,273.1 659.0,273.5 659.2,274.0 659.5,274.4 659.7,274.8 660.0,275.2 660.2,275.7 660.5,272.9 660.7,270.1 661.0,267.3 661.2,264.5 661.5,261.7 661.7,258.9 662.0,256.2 662.2,253.4 662.5,248.5 662.7,242.3 663.0,236.1 663.2,229.8 663.5,223.6 663.7,217.4 664.0,211.1 664.2,204.9 664.5,192.9 664.7,157.9 665.0,142.6 665.2,140.3 665.5,138.0 665.7,135.7 666.0,133.5 666.2,131.2 666.5,128.5 666.7,129.8 667.0,131.4 667.2,133.0 667.5,134.7 667.7,136.3 668.0,138.0 668.2,139.6 668.5,141.2 668.7,143.0 669.0,145.0 669.2,147.0 669.5,148.9 669.7,150.9 670.0,152.9 670.2,154.9 670.5,156.9 670.7,158.9 671.0,161.9 671.2,164.9 671.5,167.8 671.7,170.8 672.0,173.8 672.2,176.8 672.5,179.8 672.7,182.8 673.0,185.5 673.2,188.0 673.5,190.5 673.7,193.0 674.0,195.5 674.2,198.0 674.5,200.5 674.7,203.0 675.0,205.8 675.2,209.8 675.5,213.8 675.7,217.8 676.0,221.5 676.2,224.0 676.5,226.6 676.7,229.1 677.0,231.6 677.2,234.1 677.5,236.6 677.7,239.2 678.0,241.7 678.2,244.2 678.5,246.7 678.7,249.2 679.0,251.8 679.2,254.2 679.5,256.6 679.7,259.0 680.0,261.4 680.2,263.8 680.5,266.2 680.7,268.6 681.0,271.0 681.2,271.8 681.5,270.3 681.7,268.7 682.0,267.1 682.2,265.5 682.5,264.0 682.7,262.4 683.0,260.8 683.2,259.2 683.5,257.6 683.7,256.1 684.0,254.5 684.2,252.9 684.5,247.6 684.7,239.9 685.0,232.2 685.2,224.6 685.5,216.9 685.7,209.2 686.0,201.5 686.2,186.2 686.5,168.9 686.7,157.9 687.0,156.1 687.2,154.4 687.5,152.6 687.7,150.8 688.0,149.0 688.2,147.3 688.5,145.5 688.7,144.7 689.0,144.2 689.2,143.7 689.5,143.2 689.7,142.6 690.0,142.1 690.2,141.6 690.5,141.0 690.7,141.3 691.0,141.7 691.2,142.2 691.5,142.6 691.7,143.0 692.0,143.4 692.2,143.8 692.5,144.3 692.7,144.7 693.0,145.1 693.2,145.5 693.5,145.9 693.7,146.4 694.0,151.6 694.2,156.8 694.5,162.1 694.7,167.3 695.0,170.4 695.2,173.5 695.5,176.5 695.7,179.6 696.0,182.6 696.2,185.7 696.5,188.7 696.7,191.5 697.0,194.3 697.2,197.1 697.5,199.9 697.7,202.7 698.0,205.5 698.2,208.4 698.5,211.3 698.7,214.1 699.0,217.0 699.2,219.9 699.5,222.7 699.7,225.6 700.0,228.5 700.2,231.4 700.5,234.3 700.7,237.2 701.0,240.1 701.2,243.0 701.5,245.9 701.7,248.8 702.0,251.7 702.2,254.4 702.5,257.1 702.7,259.8 703.0,262.5 703.2,265.2 703.5,267.8 703.7,270.5 704.0,273.2 704.2,275.9 704.5,278.6 704.7,279.0 705.0,276.0 705.2,272.9 705.5,269.9 705.7,266.8 706.0,263.8 706.2,260.8 706.5,257.7 706.7,254.7 707.0,250.4 707.2,241.0 707.5,231.7 707.7,222.4 708.0,213.0 708.2,203.7 708.5,194.5 708.7,185.4 709.0,176.4 709.2,173.5 709.5,172.2 709.7,170.8 710.0,169.5 710.2,168.2 710.5,166.9 710.7,165.6 711.0,164.2 711.2,162.9 711.5,161.3 711.7,163.2 712.0,165.6 712.2,168.0 712.5,170.4 712.7,172.8 713.0,175.2 713.2,177.3 713.5,179.4 713.7,181.5 714.0,183.6 714.2,185.7 714.5,187.7 714.7,189.8 715.0,191.9 715.2,193.7 715.5,195.5 715.7,197.2 716.0,198.9 716.2,200.7 716.5,202.4 716.7,204.1 717.0,205.9 717.2,207.6 717.5,209.3 717.7,211.1 718.0,212.8 718.2,214.9 718.5,217.0 718.7,219.2 719.0,221.3 719.2,223.4 719.5,225.5 719.7,227.6 720.0,229.7 720.2,231.8 720.5,233.9 720.7,236.0 721.0,238.2 721.2,240.3 721.5,242.6 721.7,245.2 722.0,247.7 722.2,250.3 722.5,252.8 722.7,255.3 723.0,257.9 723.2,260.4 723.5,263.0 723.7,265.5 724.0,267.1 724.2,268.6 724.5,270.2 724.7,271.7 725.0,273.3 725.2,274.8 725.5,276.4 725.7,278.0 726.0,279.5 726.2,279.8 726.5,278.4 726.7,276.9 727.0,275.4 727.2,273.9 727.5,272.4 727.7,270.9 728.0,269.4 728.2,267.9 728.5,266.4 728.7,264.0 729.0,260.2 729.2,256.3 729.5,252.5 729.7,248.7 730.0,244.9 730.2,241.1 730.5,237.8 730.7,234.5 731.0,231.2 731.2,227.9 731.5,224.6 731.7,221.3 732.0,214.8 732.2,206.1 732.5,198.3 732.7,194.4 733.0,190.5 733.2,186.6 733.5,182.7 733.7,178.8 734.0,175.6 734.2,175.5 734.5,175.3 734.7,175.1 735.0,174.9 735.2,174.8 735.5,174.6 735.7,176.6 736.0,179.2 736.2,181.8 736.5,184.4 736.7,187.0 737.0,189.6 737.2,192.2 737.5,194.8 737.7,197.4 738.0,200.0 738.2,201.7 738.5,203.2 738.7,204.7 739.0,206.2 739.2,207.8 739.5,209.3 739.7,210.8 740.0,212.3 740.2,213.5 740.5,214.2 740.7,215.0 741.0,215.7 741.2,216.4 741.5,217.2 741.7,217.9 742.0,218.7 742.2,219.4 742.5,220.3 742.7,221.9 743.0,223.4 743.2,224.9 743.5,226.5 743.7,228.0 744.0,229.5 744.2,231.4 744.5,233.3 744.7,235.3 745.0,237.2 745.2,239.2 745.5,241.1 745.7,243.1 746.0,245.0 746.2,247.0 746.5,248.9 746.7,249.7 747.0,250.2 747.2,250.7 747.5,251.2 747.7,251.6 748.0,252.1 748.2,252.6 748.5,253.1 748.7,253.6 749.0,254.3 749.2,255.8 749.5,257.3 749.7,258.9 750.0,260.4 750.2,261.9 750.5,263.5 750.7,265.0 751.0,266.5 751.2,268.1 751.5,268.1 751.7,267.2 752.0,266.4 752.2,265.5 752.5,264.6 752.7,248.6 753.0,210.1 753.2,171.6 753.5,151.1 753.7,142.7 754.0,134.2 754.2,125.8 754.5,117.4 754.7,109.0 755.0,100.5 755.2,92.1 755.5,83.7 755.7,75.2 756.0,71.5 756.2,70.8 756.5,70.2 756.7,69.5 757.0,68.8 757.2,68.2 757.5,67.5 757.7,66.9 758.0,66.2 758.2,65.8 758.5,67.6 758.7,68.9 759.0,70.1 759.2,72.1 759.5,74.3 759.7,76.4 760.0,78.6 760.2,80.8 760.5,82.9 760.7,91.9 761.0,102.5 761.2,113.1 761.5,123.7 761.7,131.7 762.0,135.9 762.2,140.1 762.5,144.2 762.7,148.4 763.0,152.6 763.2,156.7 763.5,160.9 763.7,165.1 764.0,169.2 764.2,173.4 764.5,177.6 764.7,182.0 765.0,187.0 765.2,191.9 765.5,196.8 765.7,201.7 766.0,206.6 766.2,211.5 766.5,216.4 766.7,221.4 767.0,226.3 767.2,231.2 767.5,233.6 767.7,236.1 768.0,238.6 768.2,241.0 768.5,243.5 768.7,246.0 769.0,248.4 769.2,250.9 769.5,253.3 769.7,255.8 770.0,258.5 770.2,261.4 770.5,264.2 770.7,267.1 771.0,269.9 771.2,272.8 771.5,275.7 771.7,276.4 772.0,273.8 772.2,271.2 772.5,268.6 772.7,266.1 773.0,263.5 773.2,260.9 773.5,258.3 773.7,254.5 774.0,248.7 774.2,242.8 774.5,237.0 774.7,231.2 775.0,225.4 775.2,219.6 775.5,213.8 775.7,208.0 776.0,202.2 776.2,196.3 776.5,190.5 776.7,184.7 777.0,175.1 777.2,150.1 777.5,127.4 777.7,113.8 778.0,100.2 778.2,86.7 778.5,73.1 778.7,68.5 779.0,66.1 779.2,63.7 779.5,61.3 779.7,59.0 780.0,56.6 780.2,54.2 780.5,55.8 780.7,57.4 781.0,59.0 781.2,60.6 781.5,63.6 781.7,66.7 782.0,69.7 782.2,72.7 782.5,75.8 782.7,81.1 783.0,86.9 783.2,92.7 783.5,98.6 783.7,104.4 784.0,110.2 784.2,116.1 784.5,121.9 784.7,127.7 785.0,134.8 785.2,142.6 785.5,150.4 785.7,158.2 786.0,166.0 786.2,173.8 786.5,180.6 786.7,183.2 787.0,185.7 787.2,188.3 787.5,190.9 787.7,193.5 788.0,196.0 788.2,198.6 788.5,201.5 788.7,205.7 789.0,210.0 789.2,214.2 789.5,218.5 789.7,222.7 790.0,226.9 790.2,231.2 790.5,235.5 790.7,239.8 791.0,244.0 791.2,248.3 791.5,252.6 791.7,256.9 792.0,261.2 792.2,263.0 792.5,264.2 792.7,265.3 793.0,266.5 793.2,267.7 793.5,268.9 793.7,270.0 794.0,271.2 794.2,272.4 794.5,273.6 794.7,274.7 795.0,275.9 795.2,277.1 795.5,278.3 795.7,279.4 796.0,280.6 796.2,279.9 796.5,276.5 796.7,273.1 797.0,269.7 797.2,266.3 797.5,262.9 797.7,259.5 798.0,255.0 798.2,245.8 798.5,236.7 798.7,227.6 799.0,218.4 799.2,209.3 799.5,200.2 799.7,191.0 800.0,181.9 800.2,136.8 800.5,82.7 800.7,71.1 801.0,70.2 801.2,69.3 801.5,68.4 801.7,67.4 802.0,66.5 802.2,65.6 802.5,64.7 802.7,63.8 803.0,62.8 803.2,61.9 803.5,61.2 803.7,61.5 804.0,61.7 804.2,61.9 804.5,62.1 804.7,62.3 805.0,62.5 805.2,62.8 805.5,63.0 805.7,63.8 806.0,64.7 806.2,65.6 806.5,66.5 806.7,66.7 807.0,66.6 807.2,66.5 807.5,66.5 807.7,66.4 808.0,66.4 808.2,66.3 808.5,66.2" fill="none" stroke="#ffff80" stroke-width="2.2" stroke-linejoin="round"/>
<line x1="125.5" y1="211.3" x2="125.5" y2="119.4" stroke="#ffff80" stroke-opacity="0.3" stroke-width="1"/>
<polygon points="122,13 128,13 125,8" fill="#00ff00"/>
<polygon points="811,312.5 811,318.5 816,315.5" fill="#00ff00"/>
<rect x="31.5" y="365.5" width="16" height="16" fill="#ff8080" stroke="#000" stroke-width="1"/>
<rect x="31.5" y="393.5" width="16" height="16" fill="#ffff80" stroke="#000" stroke-width="1"/>
</svg><svg id="tx" width="824" height="430" viewBox="0 0 824 430" style="position:absolute;left:0;top:0">
<text transform="matrix(0.9886 0 0 1.0897 57.62 77.63)" font-family="Liberation Mono" font-size="21.33" fill="#ffffff">2000</text>
<text transform="matrix(0.9886 0 0 1.0414 57.62 138.24)" font-family="Liberation Mono" font-size="21.33" fill="#ffffff">1500</text>
<text transform="matrix(0.9886 0 0 1.0759 57.62 199.23)" font-family="Liberation Mono" font-size="21.33" fill="#ffffff">1000</text>
<text transform="matrix(0.9930 0 0 1.0759 70.06 261.23)" font-family="Liberation Mono" font-size="21.33" fill="#ffffff">500</text>
<text transform="matrix(0.9600 0 0 1.0759 95.83 322.33)" font-family="Liberation Mono" font-size="21.33" fill="#ffffff">0</text>
<text transform="matrix(1.0017 0 0 0.9841 151.50 338.35)" font-family="Liberation Mono" font-size="21.33" fill="#ffffff">Week 40</text>
<text transform="matrix(0.9989 0 0 0.9841 309.30 338.35)" font-family="Liberation Mono" font-size="21.33" fill="#ffffff">Week 41</text>
<text transform="matrix(1.0193 0 0 0.9841 466.70 338.35)" font-family="Liberation Mono" font-size="21.33" fill="#ffffff">Week 42</text>
<text transform="matrix(1.0017 0 0 0.9841 623.70 338.35)" font-family="Liberation Mono" font-size="21.33" fill="#ffffff">Week 43</text>
<text transform="matrix(1.0269 0 0 1.0450 56.48 380.40)" font-family="Liberation Mono" font-size="21.33" fill="#ffffff">legtöbb</text>
<text transform="matrix(1.0148 0 0 1.0250 57.83 408.49)" font-family="Liberation Mono" font-size="21.33" fill="#ffffff">átlag</text>
<text transform="matrix(1.0151 0 0 1.0690 219.98 408.23)" font-family="Liberation Mono" font-size="21.33" fill="#ffffff">most: 2034</text>
<text transform="matrix(1.0175 0 0 1.0250 447.53 408.29)" font-family="Liberation Mono" font-size="21.33" fill="#ffffff">átlag: 910</text>
<text transform="matrix(1.0146 0 0 1.0897 674.99 408.33)" font-family="Liberation Mono" font-size="21.33" fill="#ffffff">max: 2130</text>
<text transform="translate(17.83,274.96) rotate(-90) scale(1.0112,1.0603)" font-family="Liberation Mono" font-size="21.33" fill="#ffffff">onlinestream.live</text>
</svg>
</body></html>
